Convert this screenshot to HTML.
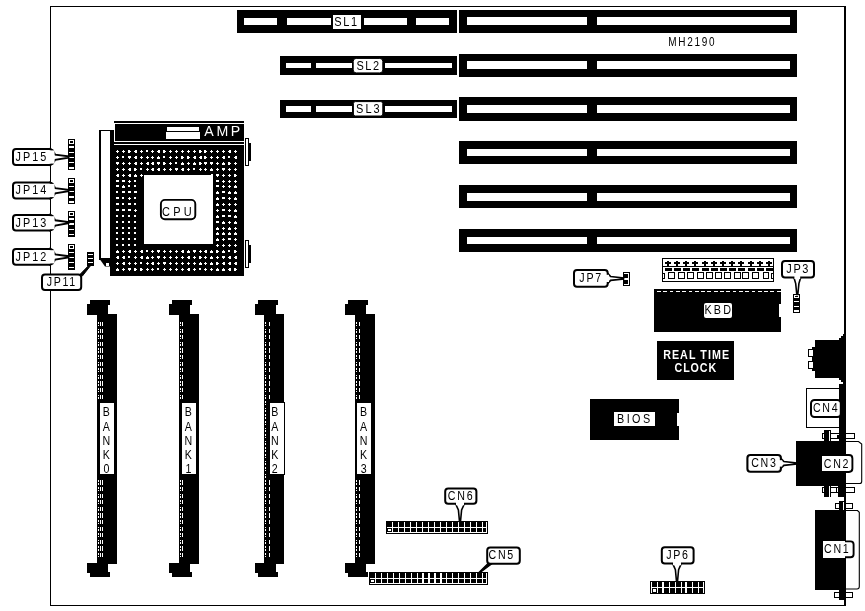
<!DOCTYPE html>
<html><head><meta charset="utf-8"><title>MH2190</title>
<style>
html,body{margin:0;padding:0;background:#fff;}
svg{display:block;will-change:transform;font-family:"Liberation Sans",sans-serif;}
</style></head><body>
<svg width="865" height="611" viewBox="0 0 865 611">
<rect width="865" height="611" fill="#fff"/>
<g shape-rendering="crispEdges">
<rect x="50" y="6" width="796" height="1" fill="#000" />
<rect x="50" y="6" width="1" height="600" fill="#000" />
<rect x="50" y="605" width="796" height="1" fill="#000" />
<rect x="844" y="6" width="2" height="600" fill="#000" />
<rect x="237" y="10" width="220" height="23" fill="#000" />
<rect x="243.5" y="18" width="33.25" height="7" fill="#fff" />
<rect x="286.75" y="18" width="44.25" height="7" fill="#fff" />
<rect x="364" y="18" width="42.5" height="7" fill="#fff" />
<rect x="416" y="18" width="33" height="7" fill="#fff" />
<rect x="280" y="56" width="177" height="19" fill="#000" />
<rect x="285.75" y="63" width="25.25" height="5" fill="#fff" />
<rect x="316" y="63" width="36" height="5" fill="#fff" />
<rect x="385" y="63" width="67" height="5" fill="#fff" />
<rect x="280" y="100" width="177" height="18" fill="#000" />
<rect x="285.75" y="106" width="25.25" height="6" fill="#fff" />
<rect x="316" y="106" width="36" height="6" fill="#fff" />
<rect x="385" y="106" width="67" height="6" fill="#fff" />
<rect x="459" y="10" width="338" height="23" fill="#000" />
<rect x="467" y="17" width="120" height="8" fill="#fff" />
<rect x="596.5" y="17" width="193.5" height="8" fill="#fff" />
<rect x="459" y="54" width="338" height="23" fill="#000" />
<rect x="467" y="61" width="120" height="8" fill="#fff" />
<rect x="596.5" y="61" width="193.5" height="8" fill="#fff" />
<rect x="459" y="97" width="338" height="24" fill="#000" />
<rect x="467" y="105" width="120" height="8" fill="#fff" />
<rect x="596.5" y="105" width="193.5" height="8" fill="#fff" />
<rect x="459" y="141" width="338" height="23" fill="#000" />
<rect x="467" y="149" width="120" height="7" fill="#fff" />
<rect x="596.5" y="149" width="193.5" height="7" fill="#fff" />
<rect x="459" y="185" width="338" height="23" fill="#000" />
<rect x="467" y="193" width="120" height="8" fill="#fff" />
<rect x="596.5" y="193" width="193.5" height="8" fill="#fff" />
<rect x="459" y="229" width="338" height="23" fill="#000" />
<rect x="467" y="237" width="120" height="7" fill="#fff" />
<rect x="596.5" y="237" width="193.5" height="7" fill="#fff" />
<rect x="333" y="14.5" width="27.5" height="14.25" fill="#fff" />
</g>
<text transform="translate(346.5 25.7) scale(0.82 1)" font-size="13.4" text-anchor="middle" fill="#000" font-weight="normal" letter-spacing="1.95" >SL1</text>
<rect x="353.2" y="58.4" width="29.6" height="14.5" rx="3" ry="3" fill="#fff" stroke="#000" stroke-width="1"/>
<text transform="translate(368.6 70.1472) scale(0.82 1)" font-size="13.4" text-anchor="middle" fill="#000" font-weight="normal" letter-spacing="1.95" >SL2</text>
<rect x="353.4" y="101.6" width="29.4" height="14.4" rx="2" ry="2" fill="#fff" stroke="#000" stroke-width="1"/>
<text transform="translate(368.9 113.097) scale(0.82 1)" font-size="13.4" text-anchor="middle" fill="#000" font-weight="normal" letter-spacing="2.44" >SL3</text>
<text transform="translate(692.3 46) scale(0.8 1)" font-size="12.5" text-anchor="middle" fill="#000" font-weight="normal" letter-spacing="2.19" >MH2190</text>
<g shape-rendering="crispEdges">
<rect x="114" y="120.6" width="130" height="2.2" fill="#000" />
<rect x="114" y="124" width="130" height="17" fill="#000" />
<rect x="114" y="142" width="130" height="2" fill="#000" />
<rect x="110" y="130" width="4" height="146" fill="#000" />
<rect x="110" y="145" width="134" height="130.8" fill="#000" />
<rect x="114" y="124" width="1" height="17" fill="#fff" />
<rect x="167" y="127" width="32" height="4" fill="#fff" />
<rect x="166" y="132" width="34" height="6.8" fill="#fff" />
<rect x="144" y="174.8" width="69" height="69.2" fill="#fff" />
</g>
<g shape-rendering="crispEdges">
<rect x="117" y="150" width="1" height="1" fill="#fff"/>
<rect x="116" y="151" width="3" height="1" fill="#fff"/>
<rect x="117" y="152" width="1" height="1" fill="#fff"/>
<rect x="117" y="156" width="1" height="1" fill="#fff"/>
<rect x="116" y="157" width="3" height="1" fill="#fff"/>
<rect x="117" y="158" width="1" height="1" fill="#fff"/>
<rect x="116" y="162" width="3" height="2" fill="#fff"/>
<rect x="117" y="164" width="1" height="1" fill="#fff"/>
<rect x="117" y="168" width="1" height="1" fill="#fff"/>
<rect x="116" y="169" width="3" height="1" fill="#fff"/>
<rect x="117" y="170" width="1" height="1" fill="#fff"/>
<rect x="117" y="174" width="2" height="3" fill="#fff"/>
<rect x="116" y="175" width="1" height="1" fill="#fff"/>
<rect x="116" y="180" width="3" height="2" fill="#fff"/>
<rect x="116" y="185" width="3" height="2" fill="#fff"/>
<rect x="116" y="191" width="2" height="2" fill="#fff"/>
<rect x="116" y="197" width="3" height="2" fill="#fff"/>
<rect x="116" y="203" width="3" height="2" fill="#fff"/>
<rect x="116" y="209" width="3" height="2" fill="#fff"/>
<rect x="116" y="215" width="2" height="2" fill="#fff"/>
<rect x="116" y="221" width="2" height="2" fill="#fff"/>
<rect x="116" y="227" width="2" height="2" fill="#fff"/>
<rect x="116" y="232" width="2" height="2" fill="#fff"/>
<rect x="116" y="238" width="2" height="2" fill="#fff"/>
<rect x="116" y="244" width="2" height="2" fill="#fff"/>
<rect x="117" y="250" width="1" height="1" fill="#fff"/>
<rect x="116" y="251" width="3" height="2" fill="#fff"/>
<rect x="117" y="256" width="2" height="3" fill="#fff"/>
<rect x="116" y="257" width="1" height="1" fill="#fff"/>
<rect x="117" y="262" width="1" height="1" fill="#fff"/>
<rect x="116" y="263" width="3" height="1" fill="#fff"/>
<rect x="117" y="264" width="1" height="1" fill="#fff"/>
<rect x="117" y="268" width="1" height="1" fill="#fff"/>
<rect x="116" y="269" width="3" height="2" fill="#fff"/>
<rect x="123" y="150" width="1" height="1" fill="#fff"/>
<rect x="122" y="151" width="3" height="1" fill="#fff"/>
<rect x="123" y="152" width="1" height="1" fill="#fff"/>
<rect x="122" y="156" width="2" height="2" fill="#fff"/>
<rect x="123" y="162" width="1" height="1" fill="#fff"/>
<rect x="122" y="163" width="3" height="1" fill="#fff"/>
<rect x="123" y="164" width="1" height="1" fill="#fff"/>
<rect x="123" y="168" width="1" height="1" fill="#fff"/>
<rect x="122" y="169" width="3" height="1" fill="#fff"/>
<rect x="123" y="170" width="1" height="1" fill="#fff"/>
<rect x="123" y="174" width="1" height="1" fill="#fff"/>
<rect x="122" y="175" width="3" height="1" fill="#fff"/>
<rect x="123" y="176" width="1" height="1" fill="#fff"/>
<rect x="122" y="180" width="3" height="2" fill="#fff"/>
<rect x="123" y="185" width="1" height="1" fill="#fff"/>
<rect x="122" y="186" width="3" height="2" fill="#fff"/>
<rect x="122" y="191" width="3" height="2" fill="#fff"/>
<rect x="122" y="197" width="2" height="2" fill="#fff"/>
<rect x="122" y="203" width="2" height="2" fill="#fff"/>
<rect x="122" y="209" width="3" height="2" fill="#fff"/>
<rect x="122" y="215" width="2" height="2" fill="#fff"/>
<rect x="122" y="221" width="2" height="2" fill="#fff"/>
<rect x="122" y="227" width="2" height="2" fill="#fff"/>
<rect x="122" y="232" width="2" height="2" fill="#fff"/>
<rect x="122" y="238" width="2" height="2" fill="#fff"/>
<rect x="122" y="244" width="2" height="2" fill="#fff"/>
<rect x="123" y="250" width="1" height="1" fill="#fff"/>
<rect x="122" y="251" width="3" height="1" fill="#fff"/>
<rect x="123" y="252" width="1" height="1" fill="#fff"/>
<rect x="123" y="256" width="2" height="3" fill="#fff"/>
<rect x="122" y="257" width="1" height="1" fill="#fff"/>
<rect x="123" y="262" width="2" height="3" fill="#fff"/>
<rect x="122" y="263" width="1" height="1" fill="#fff"/>
<rect x="123" y="268" width="1" height="1" fill="#fff"/>
<rect x="122" y="269" width="3" height="1" fill="#fff"/>
<rect x="123" y="270" width="1" height="1" fill="#fff"/>
<rect x="128" y="150" width="2" height="3" fill="#fff"/>
<rect x="130" y="151" width="1" height="1" fill="#fff"/>
<rect x="128" y="156" width="3" height="2" fill="#fff"/>
<rect x="129" y="158" width="1" height="1" fill="#fff"/>
<rect x="129" y="162" width="1" height="1" fill="#fff"/>
<rect x="128" y="163" width="3" height="1" fill="#fff"/>
<rect x="129" y="164" width="1" height="1" fill="#fff"/>
<rect x="129" y="168" width="2" height="3" fill="#fff"/>
<rect x="128" y="169" width="1" height="1" fill="#fff"/>
<rect x="129" y="174" width="2" height="3" fill="#fff"/>
<rect x="128" y="175" width="1" height="1" fill="#fff"/>
<rect x="129" y="180" width="1" height="1" fill="#fff"/>
<rect x="128" y="181" width="3" height="1" fill="#fff"/>
<rect x="129" y="182" width="1" height="1" fill="#fff"/>
<rect x="128" y="185" width="2" height="2" fill="#fff"/>
<rect x="128" y="191" width="3" height="2" fill="#fff"/>
<rect x="129" y="197" width="1" height="1" fill="#fff"/>
<rect x="128" y="198" width="3" height="1" fill="#fff"/>
<rect x="129" y="199" width="1" height="1" fill="#fff"/>
<rect x="128" y="203" width="3" height="2" fill="#fff"/>
<rect x="128" y="209" width="3" height="2" fill="#fff"/>
<rect x="128" y="215" width="2" height="2" fill="#fff"/>
<rect x="128" y="221" width="2" height="2" fill="#fff"/>
<rect x="128" y="227" width="2" height="2" fill="#fff"/>
<rect x="128" y="232" width="2" height="2" fill="#fff"/>
<rect x="128" y="238" width="2" height="2" fill="#fff"/>
<rect x="128" y="244" width="2" height="2" fill="#fff"/>
<rect x="129" y="250" width="2" height="3" fill="#fff"/>
<rect x="128" y="251" width="1" height="1" fill="#fff"/>
<rect x="128" y="256" width="2" height="2" fill="#fff"/>
<rect x="129" y="262" width="1" height="1" fill="#fff"/>
<rect x="128" y="263" width="3" height="1" fill="#fff"/>
<rect x="129" y="264" width="1" height="1" fill="#fff"/>
<rect x="128" y="268" width="3" height="2" fill="#fff"/>
<rect x="129" y="270" width="1" height="1" fill="#fff"/>
<rect x="135" y="150" width="2" height="3" fill="#fff"/>
<rect x="134" y="151" width="1" height="1" fill="#fff"/>
<rect x="135" y="156" width="2" height="3" fill="#fff"/>
<rect x="134" y="157" width="1" height="1" fill="#fff"/>
<rect x="135" y="162" width="2" height="3" fill="#fff"/>
<rect x="134" y="163" width="1" height="1" fill="#fff"/>
<rect x="134" y="168" width="2" height="3" fill="#fff"/>
<rect x="136" y="169" width="1" height="1" fill="#fff"/>
<rect x="135" y="174" width="1" height="1" fill="#fff"/>
<rect x="134" y="175" width="3" height="2" fill="#fff"/>
<rect x="134" y="180" width="2" height="2" fill="#fff"/>
<rect x="134" y="185" width="2" height="2" fill="#fff"/>
<rect x="134" y="191" width="3" height="2" fill="#fff"/>
<rect x="134" y="197" width="2" height="2" fill="#fff"/>
<rect x="134" y="203" width="2" height="2" fill="#fff"/>
<rect x="135" y="209" width="1" height="1" fill="#fff"/>
<rect x="134" y="210" width="3" height="1" fill="#fff"/>
<rect x="135" y="211" width="1" height="1" fill="#fff"/>
<rect x="134" y="215" width="2" height="2" fill="#fff"/>
<rect x="134" y="221" width="2" height="2" fill="#fff"/>
<rect x="134" y="227" width="2" height="2" fill="#fff"/>
<rect x="134" y="232" width="2" height="2" fill="#fff"/>
<rect x="134" y="238" width="2" height="2" fill="#fff"/>
<rect x="134" y="244" width="2" height="2" fill="#fff"/>
<rect x="135" y="250" width="1" height="1" fill="#fff"/>
<rect x="134" y="251" width="3" height="1" fill="#fff"/>
<rect x="135" y="252" width="1" height="1" fill="#fff"/>
<rect x="135" y="256" width="1" height="1" fill="#fff"/>
<rect x="134" y="257" width="3" height="1" fill="#fff"/>
<rect x="135" y="258" width="1" height="1" fill="#fff"/>
<rect x="135" y="262" width="1" height="1" fill="#fff"/>
<rect x="134" y="263" width="3" height="1" fill="#fff"/>
<rect x="135" y="264" width="1" height="1" fill="#fff"/>
<rect x="134" y="268" width="2" height="3" fill="#fff"/>
<rect x="136" y="269" width="1" height="1" fill="#fff"/>
<rect x="141" y="150" width="1" height="1" fill="#fff"/>
<rect x="140" y="151" width="3" height="1" fill="#fff"/>
<rect x="141" y="152" width="1" height="1" fill="#fff"/>
<rect x="141" y="156" width="1" height="1" fill="#fff"/>
<rect x="140" y="157" width="3" height="1" fill="#fff"/>
<rect x="141" y="158" width="1" height="1" fill="#fff"/>
<rect x="141" y="162" width="1" height="1" fill="#fff"/>
<rect x="140" y="163" width="3" height="1" fill="#fff"/>
<rect x="141" y="164" width="1" height="1" fill="#fff"/>
<rect x="140" y="168" width="2" height="2" fill="#fff"/>
<rect x="141" y="174" width="1" height="1" fill="#fff"/>
<rect x="140" y="175" width="3" height="1" fill="#fff"/>
<rect x="141" y="176" width="1" height="1" fill="#fff"/>
<rect x="141" y="250" width="2" height="3" fill="#fff"/>
<rect x="140" y="251" width="1" height="1" fill="#fff"/>
<rect x="141" y="256" width="2" height="3" fill="#fff"/>
<rect x="140" y="257" width="1" height="1" fill="#fff"/>
<rect x="140" y="262" width="2" height="2" fill="#fff"/>
<rect x="140" y="268" width="2" height="3" fill="#fff"/>
<rect x="142" y="269" width="1" height="1" fill="#fff"/>
<rect x="146" y="150" width="2" height="2" fill="#fff"/>
<rect x="147" y="156" width="1" height="1" fill="#fff"/>
<rect x="146" y="157" width="3" height="1" fill="#fff"/>
<rect x="147" y="158" width="1" height="1" fill="#fff"/>
<rect x="147" y="162" width="2" height="3" fill="#fff"/>
<rect x="146" y="163" width="1" height="1" fill="#fff"/>
<rect x="147" y="168" width="1" height="1" fill="#fff"/>
<rect x="146" y="169" width="3" height="1" fill="#fff"/>
<rect x="147" y="170" width="1" height="1" fill="#fff"/>
<rect x="146" y="250" width="2" height="2" fill="#fff"/>
<rect x="147" y="256" width="1" height="1" fill="#fff"/>
<rect x="146" y="257" width="3" height="2" fill="#fff"/>
<rect x="147" y="262" width="1" height="1" fill="#fff"/>
<rect x="146" y="263" width="3" height="1" fill="#fff"/>
<rect x="147" y="264" width="1" height="1" fill="#fff"/>
<rect x="147" y="268" width="1" height="1" fill="#fff"/>
<rect x="146" y="269" width="3" height="1" fill="#fff"/>
<rect x="147" y="270" width="1" height="1" fill="#fff"/>
<rect x="152" y="150" width="1" height="1" fill="#fff"/>
<rect x="151" y="151" width="3" height="1" fill="#fff"/>
<rect x="152" y="152" width="1" height="1" fill="#fff"/>
<rect x="152" y="156" width="1" height="1" fill="#fff"/>
<rect x="151" y="157" width="3" height="1" fill="#fff"/>
<rect x="152" y="158" width="1" height="1" fill="#fff"/>
<rect x="152" y="162" width="2" height="3" fill="#fff"/>
<rect x="151" y="163" width="1" height="1" fill="#fff"/>
<rect x="152" y="168" width="2" height="3" fill="#fff"/>
<rect x="151" y="169" width="1" height="1" fill="#fff"/>
<rect x="152" y="250" width="1" height="1" fill="#fff"/>
<rect x="151" y="251" width="3" height="1" fill="#fff"/>
<rect x="152" y="252" width="1" height="1" fill="#fff"/>
<rect x="152" y="256" width="1" height="1" fill="#fff"/>
<rect x="151" y="257" width="3" height="1" fill="#fff"/>
<rect x="152" y="258" width="1" height="1" fill="#fff"/>
<rect x="152" y="262" width="2" height="3" fill="#fff"/>
<rect x="151" y="263" width="1" height="1" fill="#fff"/>
<rect x="152" y="268" width="1" height="1" fill="#fff"/>
<rect x="151" y="269" width="3" height="1" fill="#fff"/>
<rect x="152" y="270" width="1" height="1" fill="#fff"/>
<rect x="158" y="150" width="2" height="3" fill="#fff"/>
<rect x="157" y="151" width="1" height="1" fill="#fff"/>
<rect x="158" y="156" width="1" height="1" fill="#fff"/>
<rect x="157" y="157" width="3" height="2" fill="#fff"/>
<rect x="157" y="162" width="3" height="2" fill="#fff"/>
<rect x="158" y="164" width="1" height="1" fill="#fff"/>
<rect x="158" y="168" width="2" height="3" fill="#fff"/>
<rect x="157" y="169" width="1" height="1" fill="#fff"/>
<rect x="157" y="250" width="3" height="2" fill="#fff"/>
<rect x="158" y="252" width="1" height="1" fill="#fff"/>
<rect x="157" y="256" width="3" height="2" fill="#fff"/>
<rect x="158" y="258" width="1" height="1" fill="#fff"/>
<rect x="158" y="262" width="1" height="1" fill="#fff"/>
<rect x="157" y="263" width="3" height="1" fill="#fff"/>
<rect x="158" y="264" width="1" height="1" fill="#fff"/>
<rect x="157" y="268" width="2" height="2" fill="#fff"/>
<rect x="163" y="150" width="2" height="3" fill="#fff"/>
<rect x="165" y="151" width="1" height="1" fill="#fff"/>
<rect x="163" y="156" width="2" height="2" fill="#fff"/>
<rect x="163" y="162" width="2" height="3" fill="#fff"/>
<rect x="165" y="163" width="1" height="1" fill="#fff"/>
<rect x="164" y="168" width="1" height="1" fill="#fff"/>
<rect x="163" y="169" width="3" height="1" fill="#fff"/>
<rect x="164" y="170" width="1" height="1" fill="#fff"/>
<rect x="164" y="250" width="1" height="1" fill="#fff"/>
<rect x="163" y="251" width="3" height="1" fill="#fff"/>
<rect x="164" y="252" width="1" height="1" fill="#fff"/>
<rect x="164" y="256" width="1" height="1" fill="#fff"/>
<rect x="163" y="257" width="3" height="1" fill="#fff"/>
<rect x="164" y="258" width="1" height="1" fill="#fff"/>
<rect x="163" y="262" width="3" height="2" fill="#fff"/>
<rect x="164" y="264" width="1" height="1" fill="#fff"/>
<rect x="164" y="268" width="1" height="1" fill="#fff"/>
<rect x="163" y="269" width="3" height="1" fill="#fff"/>
<rect x="164" y="270" width="1" height="1" fill="#fff"/>
<rect x="170" y="150" width="1" height="1" fill="#fff"/>
<rect x="169" y="151" width="3" height="1" fill="#fff"/>
<rect x="170" y="152" width="1" height="1" fill="#fff"/>
<rect x="170" y="156" width="1" height="1" fill="#fff"/>
<rect x="169" y="157" width="3" height="1" fill="#fff"/>
<rect x="170" y="158" width="1" height="1" fill="#fff"/>
<rect x="170" y="162" width="1" height="1" fill="#fff"/>
<rect x="169" y="163" width="3" height="1" fill="#fff"/>
<rect x="170" y="164" width="1" height="1" fill="#fff"/>
<rect x="170" y="168" width="1" height="1" fill="#fff"/>
<rect x="169" y="169" width="3" height="1" fill="#fff"/>
<rect x="170" y="170" width="1" height="1" fill="#fff"/>
<rect x="170" y="250" width="1" height="1" fill="#fff"/>
<rect x="169" y="251" width="3" height="1" fill="#fff"/>
<rect x="170" y="252" width="1" height="1" fill="#fff"/>
<rect x="170" y="256" width="1" height="1" fill="#fff"/>
<rect x="169" y="257" width="3" height="1" fill="#fff"/>
<rect x="170" y="258" width="1" height="1" fill="#fff"/>
<rect x="170" y="262" width="1" height="1" fill="#fff"/>
<rect x="169" y="263" width="3" height="1" fill="#fff"/>
<rect x="170" y="264" width="1" height="1" fill="#fff"/>
<rect x="170" y="268" width="1" height="1" fill="#fff"/>
<rect x="169" y="269" width="3" height="1" fill="#fff"/>
<rect x="170" y="270" width="1" height="1" fill="#fff"/>
<rect x="176" y="150" width="1" height="1" fill="#fff"/>
<rect x="175" y="151" width="3" height="1" fill="#fff"/>
<rect x="176" y="152" width="1" height="1" fill="#fff"/>
<rect x="176" y="156" width="1" height="1" fill="#fff"/>
<rect x="175" y="157" width="3" height="1" fill="#fff"/>
<rect x="176" y="158" width="1" height="1" fill="#fff"/>
<rect x="175" y="162" width="2" height="2" fill="#fff"/>
<rect x="175" y="168" width="3" height="2" fill="#fff"/>
<rect x="176" y="170" width="1" height="1" fill="#fff"/>
<rect x="176" y="250" width="1" height="1" fill="#fff"/>
<rect x="175" y="251" width="3" height="1" fill="#fff"/>
<rect x="176" y="252" width="1" height="1" fill="#fff"/>
<rect x="176" y="256" width="1" height="1" fill="#fff"/>
<rect x="175" y="257" width="3" height="1" fill="#fff"/>
<rect x="176" y="258" width="1" height="1" fill="#fff"/>
<rect x="176" y="262" width="1" height="1" fill="#fff"/>
<rect x="175" y="263" width="3" height="1" fill="#fff"/>
<rect x="176" y="264" width="1" height="1" fill="#fff"/>
<rect x="176" y="268" width="1" height="1" fill="#fff"/>
<rect x="175" y="269" width="3" height="1" fill="#fff"/>
<rect x="176" y="270" width="1" height="1" fill="#fff"/>
<rect x="182" y="150" width="1" height="1" fill="#fff"/>
<rect x="181" y="151" width="3" height="1" fill="#fff"/>
<rect x="182" y="152" width="1" height="1" fill="#fff"/>
<rect x="181" y="156" width="2" height="3" fill="#fff"/>
<rect x="183" y="157" width="1" height="1" fill="#fff"/>
<rect x="182" y="162" width="1" height="1" fill="#fff"/>
<rect x="181" y="163" width="3" height="2" fill="#fff"/>
<rect x="182" y="168" width="2" height="3" fill="#fff"/>
<rect x="181" y="169" width="1" height="1" fill="#fff"/>
<rect x="182" y="250" width="2" height="3" fill="#fff"/>
<rect x="181" y="251" width="1" height="1" fill="#fff"/>
<rect x="182" y="256" width="1" height="1" fill="#fff"/>
<rect x="181" y="257" width="3" height="1" fill="#fff"/>
<rect x="182" y="258" width="1" height="1" fill="#fff"/>
<rect x="182" y="262" width="1" height="1" fill="#fff"/>
<rect x="181" y="263" width="3" height="1" fill="#fff"/>
<rect x="182" y="264" width="1" height="1" fill="#fff"/>
<rect x="182" y="268" width="1" height="1" fill="#fff"/>
<rect x="181" y="269" width="3" height="1" fill="#fff"/>
<rect x="182" y="270" width="1" height="1" fill="#fff"/>
<rect x="188" y="150" width="1" height="1" fill="#fff"/>
<rect x="187" y="151" width="3" height="1" fill="#fff"/>
<rect x="188" y="152" width="1" height="1" fill="#fff"/>
<rect x="187" y="156" width="2" height="3" fill="#fff"/>
<rect x="189" y="157" width="1" height="1" fill="#fff"/>
<rect x="188" y="162" width="1" height="1" fill="#fff"/>
<rect x="187" y="163" width="3" height="1" fill="#fff"/>
<rect x="188" y="164" width="1" height="1" fill="#fff"/>
<rect x="188" y="168" width="1" height="1" fill="#fff"/>
<rect x="187" y="169" width="3" height="1" fill="#fff"/>
<rect x="188" y="170" width="1" height="1" fill="#fff"/>
<rect x="188" y="250" width="1" height="1" fill="#fff"/>
<rect x="187" y="251" width="3" height="2" fill="#fff"/>
<rect x="188" y="256" width="2" height="3" fill="#fff"/>
<rect x="187" y="257" width="1" height="1" fill="#fff"/>
<rect x="188" y="262" width="1" height="1" fill="#fff"/>
<rect x="187" y="263" width="3" height="1" fill="#fff"/>
<rect x="188" y="264" width="1" height="1" fill="#fff"/>
<rect x="188" y="268" width="2" height="3" fill="#fff"/>
<rect x="187" y="269" width="1" height="1" fill="#fff"/>
<rect x="194" y="150" width="1" height="1" fill="#fff"/>
<rect x="193" y="151" width="3" height="1" fill="#fff"/>
<rect x="194" y="152" width="1" height="1" fill="#fff"/>
<rect x="194" y="156" width="2" height="3" fill="#fff"/>
<rect x="193" y="157" width="1" height="1" fill="#fff"/>
<rect x="194" y="162" width="1" height="1" fill="#fff"/>
<rect x="193" y="163" width="3" height="2" fill="#fff"/>
<rect x="193" y="168" width="2" height="2" fill="#fff"/>
<rect x="193" y="250" width="3" height="2" fill="#fff"/>
<rect x="194" y="252" width="1" height="1" fill="#fff"/>
<rect x="194" y="256" width="1" height="1" fill="#fff"/>
<rect x="193" y="257" width="3" height="1" fill="#fff"/>
<rect x="194" y="258" width="1" height="1" fill="#fff"/>
<rect x="194" y="262" width="1" height="1" fill="#fff"/>
<rect x="193" y="263" width="3" height="1" fill="#fff"/>
<rect x="194" y="264" width="1" height="1" fill="#fff"/>
<rect x="194" y="268" width="1" height="1" fill="#fff"/>
<rect x="193" y="269" width="3" height="1" fill="#fff"/>
<rect x="194" y="270" width="1" height="1" fill="#fff"/>
<rect x="199" y="150" width="2" height="3" fill="#fff"/>
<rect x="201" y="151" width="1" height="1" fill="#fff"/>
<rect x="200" y="156" width="2" height="3" fill="#fff"/>
<rect x="199" y="157" width="1" height="1" fill="#fff"/>
<rect x="199" y="162" width="2" height="3" fill="#fff"/>
<rect x="201" y="163" width="1" height="1" fill="#fff"/>
<rect x="200" y="168" width="1" height="1" fill="#fff"/>
<rect x="199" y="169" width="3" height="1" fill="#fff"/>
<rect x="200" y="170" width="1" height="1" fill="#fff"/>
<rect x="200" y="250" width="1" height="1" fill="#fff"/>
<rect x="199" y="251" width="3" height="1" fill="#fff"/>
<rect x="200" y="252" width="1" height="1" fill="#fff"/>
<rect x="199" y="256" width="2" height="3" fill="#fff"/>
<rect x="201" y="257" width="1" height="1" fill="#fff"/>
<rect x="200" y="262" width="1" height="1" fill="#fff"/>
<rect x="199" y="263" width="3" height="2" fill="#fff"/>
<rect x="199" y="268" width="2" height="2" fill="#fff"/>
<rect x="204" y="150" width="2" height="3" fill="#fff"/>
<rect x="206" y="151" width="1" height="1" fill="#fff"/>
<rect x="204" y="156" width="2" height="3" fill="#fff"/>
<rect x="206" y="157" width="1" height="1" fill="#fff"/>
<rect x="204" y="162" width="3" height="2" fill="#fff"/>
<rect x="205" y="164" width="1" height="1" fill="#fff"/>
<rect x="205" y="168" width="1" height="1" fill="#fff"/>
<rect x="204" y="169" width="3" height="1" fill="#fff"/>
<rect x="205" y="170" width="1" height="1" fill="#fff"/>
<rect x="205" y="250" width="2" height="3" fill="#fff"/>
<rect x="204" y="251" width="1" height="1" fill="#fff"/>
<rect x="205" y="256" width="1" height="1" fill="#fff"/>
<rect x="204" y="257" width="3" height="1" fill="#fff"/>
<rect x="205" y="258" width="1" height="1" fill="#fff"/>
<rect x="205" y="262" width="1" height="1" fill="#fff"/>
<rect x="204" y="263" width="3" height="1" fill="#fff"/>
<rect x="205" y="264" width="1" height="1" fill="#fff"/>
<rect x="205" y="268" width="1" height="1" fill="#fff"/>
<rect x="204" y="269" width="3" height="1" fill="#fff"/>
<rect x="205" y="270" width="1" height="1" fill="#fff"/>
<rect x="211" y="150" width="1" height="1" fill="#fff"/>
<rect x="210" y="151" width="3" height="1" fill="#fff"/>
<rect x="211" y="152" width="1" height="1" fill="#fff"/>
<rect x="211" y="156" width="1" height="1" fill="#fff"/>
<rect x="210" y="157" width="3" height="1" fill="#fff"/>
<rect x="211" y="158" width="1" height="1" fill="#fff"/>
<rect x="210" y="162" width="3" height="2" fill="#fff"/>
<rect x="211" y="164" width="1" height="1" fill="#fff"/>
<rect x="211" y="168" width="1" height="1" fill="#fff"/>
<rect x="210" y="169" width="3" height="2" fill="#fff"/>
<rect x="211" y="174" width="2" height="3" fill="#fff"/>
<rect x="210" y="175" width="1" height="1" fill="#fff"/>
<rect x="211" y="250" width="1" height="1" fill="#fff"/>
<rect x="210" y="251" width="3" height="2" fill="#fff"/>
<rect x="211" y="256" width="1" height="1" fill="#fff"/>
<rect x="210" y="257" width="3" height="2" fill="#fff"/>
<rect x="211" y="262" width="1" height="1" fill="#fff"/>
<rect x="210" y="263" width="3" height="2" fill="#fff"/>
<rect x="211" y="268" width="1" height="1" fill="#fff"/>
<rect x="210" y="269" width="3" height="1" fill="#fff"/>
<rect x="211" y="270" width="1" height="1" fill="#fff"/>
<rect x="217" y="150" width="1" height="1" fill="#fff"/>
<rect x="216" y="151" width="3" height="1" fill="#fff"/>
<rect x="217" y="152" width="1" height="1" fill="#fff"/>
<rect x="217" y="156" width="1" height="1" fill="#fff"/>
<rect x="216" y="157" width="3" height="1" fill="#fff"/>
<rect x="217" y="158" width="1" height="1" fill="#fff"/>
<rect x="217" y="162" width="1" height="1" fill="#fff"/>
<rect x="216" y="163" width="3" height="1" fill="#fff"/>
<rect x="217" y="164" width="1" height="1" fill="#fff"/>
<rect x="217" y="168" width="1" height="1" fill="#fff"/>
<rect x="216" y="169" width="3" height="1" fill="#fff"/>
<rect x="217" y="170" width="1" height="1" fill="#fff"/>
<rect x="216" y="174" width="3" height="2" fill="#fff"/>
<rect x="217" y="176" width="1" height="1" fill="#fff"/>
<rect x="216" y="180" width="3" height="2" fill="#fff"/>
<rect x="216" y="185" width="3" height="2" fill="#fff"/>
<rect x="217" y="191" width="1" height="1" fill="#fff"/>
<rect x="216" y="192" width="3" height="2" fill="#fff"/>
<rect x="217" y="197" width="1" height="1" fill="#fff"/>
<rect x="216" y="198" width="3" height="2" fill="#fff"/>
<rect x="217" y="203" width="1" height="1" fill="#fff"/>
<rect x="216" y="204" width="3" height="2" fill="#fff"/>
<rect x="217" y="209" width="1" height="1" fill="#fff"/>
<rect x="216" y="210" width="3" height="1" fill="#fff"/>
<rect x="217" y="211" width="1" height="1" fill="#fff"/>
<rect x="217" y="215" width="1" height="1" fill="#fff"/>
<rect x="216" y="216" width="3" height="2" fill="#fff"/>
<rect x="216" y="221" width="3" height="2" fill="#fff"/>
<rect x="217" y="227" width="1" height="1" fill="#fff"/>
<rect x="216" y="228" width="3" height="2" fill="#fff"/>
<rect x="217" y="232" width="1" height="1" fill="#fff"/>
<rect x="216" y="233" width="3" height="2" fill="#fff"/>
<rect x="217" y="238" width="1" height="1" fill="#fff"/>
<rect x="216" y="239" width="3" height="2" fill="#fff"/>
<rect x="217" y="244" width="1" height="1" fill="#fff"/>
<rect x="216" y="245" width="3" height="1" fill="#fff"/>
<rect x="217" y="246" width="1" height="1" fill="#fff"/>
<rect x="216" y="250" width="2" height="3" fill="#fff"/>
<rect x="218" y="251" width="1" height="1" fill="#fff"/>
<rect x="217" y="256" width="1" height="1" fill="#fff"/>
<rect x="216" y="257" width="3" height="1" fill="#fff"/>
<rect x="217" y="258" width="1" height="1" fill="#fff"/>
<rect x="216" y="262" width="2" height="3" fill="#fff"/>
<rect x="218" y="263" width="1" height="1" fill="#fff"/>
<rect x="217" y="268" width="1" height="1" fill="#fff"/>
<rect x="216" y="269" width="3" height="2" fill="#fff"/>
<rect x="223" y="150" width="1" height="1" fill="#fff"/>
<rect x="222" y="151" width="3" height="1" fill="#fff"/>
<rect x="223" y="152" width="1" height="1" fill="#fff"/>
<rect x="223" y="156" width="2" height="3" fill="#fff"/>
<rect x="222" y="157" width="1" height="1" fill="#fff"/>
<rect x="223" y="162" width="1" height="1" fill="#fff"/>
<rect x="222" y="163" width="3" height="2" fill="#fff"/>
<rect x="222" y="168" width="3" height="2" fill="#fff"/>
<rect x="223" y="170" width="1" height="1" fill="#fff"/>
<rect x="223" y="174" width="1" height="1" fill="#fff"/>
<rect x="222" y="175" width="3" height="1" fill="#fff"/>
<rect x="223" y="176" width="1" height="1" fill="#fff"/>
<rect x="223" y="180" width="1" height="1" fill="#fff"/>
<rect x="222" y="181" width="3" height="1" fill="#fff"/>
<rect x="223" y="182" width="1" height="1" fill="#fff"/>
<rect x="223" y="185" width="1" height="1" fill="#fff"/>
<rect x="222" y="186" width="3" height="1" fill="#fff"/>
<rect x="223" y="187" width="1" height="1" fill="#fff"/>
<rect x="222" y="191" width="3" height="2" fill="#fff"/>
<rect x="222" y="197" width="3" height="2" fill="#fff"/>
<rect x="223" y="203" width="1" height="1" fill="#fff"/>
<rect x="222" y="204" width="3" height="1" fill="#fff"/>
<rect x="223" y="205" width="1" height="1" fill="#fff"/>
<rect x="222" y="209" width="3" height="2" fill="#fff"/>
<rect x="222" y="215" width="3" height="2" fill="#fff"/>
<rect x="223" y="221" width="1" height="1" fill="#fff"/>
<rect x="222" y="222" width="3" height="2" fill="#fff"/>
<rect x="223" y="227" width="1" height="1" fill="#fff"/>
<rect x="222" y="228" width="3" height="1" fill="#fff"/>
<rect x="223" y="229" width="1" height="1" fill="#fff"/>
<rect x="223" y="232" width="1" height="1" fill="#fff"/>
<rect x="222" y="233" width="3" height="2" fill="#fff"/>
<rect x="223" y="238" width="1" height="1" fill="#fff"/>
<rect x="222" y="239" width="3" height="1" fill="#fff"/>
<rect x="223" y="240" width="1" height="1" fill="#fff"/>
<rect x="223" y="244" width="1" height="1" fill="#fff"/>
<rect x="222" y="245" width="3" height="1" fill="#fff"/>
<rect x="223" y="246" width="1" height="1" fill="#fff"/>
<rect x="223" y="250" width="1" height="1" fill="#fff"/>
<rect x="222" y="251" width="3" height="2" fill="#fff"/>
<rect x="222" y="256" width="3" height="2" fill="#fff"/>
<rect x="223" y="258" width="1" height="1" fill="#fff"/>
<rect x="223" y="262" width="2" height="3" fill="#fff"/>
<rect x="222" y="263" width="1" height="1" fill="#fff"/>
<rect x="223" y="268" width="1" height="1" fill="#fff"/>
<rect x="222" y="269" width="3" height="2" fill="#fff"/>
<rect x="229" y="150" width="2" height="3" fill="#fff"/>
<rect x="228" y="151" width="1" height="1" fill="#fff"/>
<rect x="228" y="156" width="2" height="2" fill="#fff"/>
<rect x="228" y="162" width="2" height="3" fill="#fff"/>
<rect x="230" y="163" width="1" height="1" fill="#fff"/>
<rect x="229" y="168" width="1" height="1" fill="#fff"/>
<rect x="228" y="169" width="3" height="1" fill="#fff"/>
<rect x="229" y="170" width="1" height="1" fill="#fff"/>
<rect x="229" y="174" width="1" height="1" fill="#fff"/>
<rect x="228" y="175" width="3" height="1" fill="#fff"/>
<rect x="229" y="176" width="1" height="1" fill="#fff"/>
<rect x="229" y="180" width="1" height="1" fill="#fff"/>
<rect x="228" y="181" width="3" height="1" fill="#fff"/>
<rect x="229" y="182" width="1" height="1" fill="#fff"/>
<rect x="229" y="185" width="1" height="1" fill="#fff"/>
<rect x="228" y="186" width="3" height="1" fill="#fff"/>
<rect x="229" y="187" width="1" height="1" fill="#fff"/>
<rect x="229" y="191" width="1" height="1" fill="#fff"/>
<rect x="228" y="192" width="3" height="2" fill="#fff"/>
<rect x="229" y="197" width="1" height="1" fill="#fff"/>
<rect x="228" y="198" width="3" height="1" fill="#fff"/>
<rect x="229" y="199" width="1" height="1" fill="#fff"/>
<rect x="229" y="203" width="1" height="1" fill="#fff"/>
<rect x="228" y="204" width="3" height="1" fill="#fff"/>
<rect x="229" y="205" width="1" height="1" fill="#fff"/>
<rect x="229" y="209" width="1" height="1" fill="#fff"/>
<rect x="228" y="210" width="3" height="1" fill="#fff"/>
<rect x="229" y="211" width="1" height="1" fill="#fff"/>
<rect x="228" y="215" width="3" height="2" fill="#fff"/>
<rect x="229" y="221" width="1" height="1" fill="#fff"/>
<rect x="228" y="222" width="3" height="1" fill="#fff"/>
<rect x="229" y="223" width="1" height="1" fill="#fff"/>
<rect x="229" y="227" width="1" height="1" fill="#fff"/>
<rect x="228" y="228" width="3" height="2" fill="#fff"/>
<rect x="229" y="232" width="1" height="1" fill="#fff"/>
<rect x="228" y="233" width="3" height="2" fill="#fff"/>
<rect x="228" y="238" width="3" height="2" fill="#fff"/>
<rect x="229" y="244" width="1" height="1" fill="#fff"/>
<rect x="228" y="245" width="3" height="1" fill="#fff"/>
<rect x="229" y="246" width="1" height="1" fill="#fff"/>
<rect x="228" y="250" width="2" height="2" fill="#fff"/>
<rect x="229" y="256" width="2" height="3" fill="#fff"/>
<rect x="228" y="257" width="1" height="1" fill="#fff"/>
<rect x="229" y="262" width="2" height="3" fill="#fff"/>
<rect x="228" y="263" width="1" height="1" fill="#fff"/>
<rect x="229" y="268" width="2" height="3" fill="#fff"/>
<rect x="228" y="269" width="1" height="1" fill="#fff"/>
<rect x="235" y="150" width="1" height="1" fill="#fff"/>
<rect x="234" y="151" width="3" height="1" fill="#fff"/>
<rect x="235" y="152" width="1" height="1" fill="#fff"/>
<rect x="235" y="156" width="2" height="3" fill="#fff"/>
<rect x="234" y="157" width="1" height="1" fill="#fff"/>
<rect x="235" y="162" width="1" height="1" fill="#fff"/>
<rect x="234" y="163" width="3" height="1" fill="#fff"/>
<rect x="235" y="164" width="1" height="1" fill="#fff"/>
<rect x="235" y="168" width="1" height="1" fill="#fff"/>
<rect x="234" y="169" width="3" height="1" fill="#fff"/>
<rect x="235" y="170" width="1" height="1" fill="#fff"/>
<rect x="234" y="174" width="2" height="3" fill="#fff"/>
<rect x="236" y="175" width="1" height="1" fill="#fff"/>
<rect x="235" y="180" width="1" height="1" fill="#fff"/>
<rect x="234" y="181" width="3" height="1" fill="#fff"/>
<rect x="235" y="182" width="1" height="1" fill="#fff"/>
<rect x="235" y="185" width="1" height="1" fill="#fff"/>
<rect x="234" y="186" width="3" height="2" fill="#fff"/>
<rect x="235" y="191" width="1" height="1" fill="#fff"/>
<rect x="234" y="192" width="3" height="2" fill="#fff"/>
<rect x="235" y="197" width="1" height="1" fill="#fff"/>
<rect x="234" y="198" width="3" height="2" fill="#fff"/>
<rect x="235" y="203" width="1" height="1" fill="#fff"/>
<rect x="234" y="204" width="3" height="1" fill="#fff"/>
<rect x="235" y="205" width="1" height="1" fill="#fff"/>
<rect x="235" y="209" width="1" height="1" fill="#fff"/>
<rect x="234" y="210" width="3" height="2" fill="#fff"/>
<rect x="235" y="215" width="1" height="1" fill="#fff"/>
<rect x="234" y="216" width="3" height="2" fill="#fff"/>
<rect x="235" y="221" width="1" height="1" fill="#fff"/>
<rect x="234" y="222" width="3" height="2" fill="#fff"/>
<rect x="235" y="227" width="1" height="1" fill="#fff"/>
<rect x="234" y="228" width="3" height="1" fill="#fff"/>
<rect x="235" y="229" width="1" height="1" fill="#fff"/>
<rect x="235" y="232" width="1" height="1" fill="#fff"/>
<rect x="234" y="233" width="3" height="2" fill="#fff"/>
<rect x="235" y="238" width="1" height="1" fill="#fff"/>
<rect x="234" y="239" width="3" height="1" fill="#fff"/>
<rect x="235" y="240" width="1" height="1" fill="#fff"/>
<rect x="235" y="244" width="1" height="1" fill="#fff"/>
<rect x="234" y="245" width="3" height="1" fill="#fff"/>
<rect x="235" y="246" width="1" height="1" fill="#fff"/>
<rect x="234" y="250" width="2" height="3" fill="#fff"/>
<rect x="236" y="251" width="1" height="1" fill="#fff"/>
<rect x="235" y="256" width="2" height="3" fill="#fff"/>
<rect x="234" y="257" width="1" height="1" fill="#fff"/>
<rect x="235" y="262" width="2" height="3" fill="#fff"/>
<rect x="234" y="263" width="1" height="1" fill="#fff"/>
<rect x="234" y="268" width="2" height="3" fill="#fff"/>
<rect x="236" y="269" width="1" height="1" fill="#fff"/>
</g>
<g shape-rendering="crispEdges">
<rect x="99" y="130" width="11" height="129.6" fill="#000" />
<rect x="100.5" y="131.3" width="9.5" height="127.1" fill="#fff" />
</g>
<path d="M99.6 259 L105 266.6 L110 266.6 L110 259 Z" fill="#000"/>
<g shape-rendering="crispEdges">
<rect x="105.6" y="262.8" width="3" height="3.2" fill="#fff" />
<rect x="245" y="138" width="3.6" height="28" fill="#000" />
<rect x="246" y="139" width="1.6" height="26" fill="#fff" />
<rect x="248.6" y="143" width="2" height="18" fill="#000" />
<rect x="245" y="240" width="3.6" height="28" fill="#000" />
<rect x="246" y="241" width="1.6" height="26" fill="#fff" />
<rect x="248.6" y="245" width="2" height="18" fill="#000" />
</g>
<text transform="translate(223.6 135.8) scale(0.92 1)" font-size="15.4" text-anchor="middle" fill="#fff" font-weight="normal" letter-spacing="2.83" >AMP</text>
<rect x="160.9" y="199.9" width="34.4" height="19.3" rx="4" ry="4" fill="#fff" stroke="#000" stroke-width="1.9"/>
<text transform="translate(178.5 215.847) scale(0.82 1)" font-size="13.4" text-anchor="middle" fill="#000" font-weight="normal" letter-spacing="3.90" >CPU</text>
<g shape-rendering="crispEdges">
<rect x="68" y="139" width="7" height="31" fill="#000" />
<rect x="69" y="140" width="5" height="3.77" fill="#fff" />
<rect x="70.1" y="141" width="2.8" height="1.77" fill="#000" />
<rect x="71" y="141.9" width="1" height="-0.13" fill="#fff" />
<rect x="69" y="146.45" width="5" height="1.5" fill="#fff" />
<rect x="69" y="151.62" width="5" height="1.5" fill="#fff" />
<rect x="69" y="156.78" width="5" height="1.5" fill="#fff" />
<rect x="69" y="161.95" width="5" height="1.5" fill="#fff" />
<rect x="69" y="167.12" width="5" height="1.5" fill="#fff" />
</g>
<path d="M50.2 149.2 L52.7 150.2 L55.2 154.6 L68.5 156.4 L68.5 157.6 L55.2 159.8 L52.7 163.8 L50.2 164.8 Z" fill="#fff" stroke="#000" stroke-width="1.9" stroke-linejoin="miter"/>
<rect x="13" y="149.1" width="39" height="15.8" rx="3" ry="3" fill="#fff" stroke="#000" stroke-width="2"/>
<text transform="translate(31.95 160.826) scale(0.82 1)" font-size="13.2" text-anchor="middle" fill="#000" font-weight="normal" letter-spacing="2.56" >JP15</text>
<rect x="49" y="150.4" width="5.6" height="13.2" fill="#fff"/>
<g shape-rendering="crispEdges">
<rect x="68" y="178.3" width="7" height="25.9" fill="#000" />
<rect x="69" y="179.3" width="5" height="3.78" fill="#fff" />
<rect x="70.1" y="180.3" width="2.8" height="1.78" fill="#000" />
<rect x="71" y="181.2" width="1" height="-0.12" fill="#fff" />
<rect x="69" y="185.77" width="5" height="1.5" fill="#fff" />
<rect x="69" y="190.95" width="5" height="1.5" fill="#fff" />
<rect x="69" y="196.13" width="5" height="1.5" fill="#fff" />
<rect x="69" y="201.31" width="5" height="1.5" fill="#fff" />
</g>
<path d="M50.2 182.7 L52.7 183.7 L55.2 188.1 L68.5 189.9 L68.5 191.1 L55.2 193.3 L52.7 197.3 L50.2 198.3 Z" fill="#fff" stroke="#000" stroke-width="1.9" stroke-linejoin="miter"/>
<rect x="13" y="182.6" width="39" height="15.8" rx="3" ry="3" fill="#fff" stroke="#000" stroke-width="2"/>
<text transform="translate(31.95 194.326) scale(0.82 1)" font-size="13.2" text-anchor="middle" fill="#000" font-weight="normal" letter-spacing="2.56" >JP14</text>
<rect x="49" y="183.9" width="5.6" height="13.2" fill="#fff"/>
<g shape-rendering="crispEdges">
<rect x="68" y="211" width="7" height="25.5" fill="#000" />
<rect x="69" y="212" width="5" height="3.7" fill="#fff" />
<rect x="70.1" y="213" width="2.8" height="1.7" fill="#000" />
<rect x="71" y="213.9" width="1" height="-0.2" fill="#fff" />
<rect x="69" y="218.35" width="5" height="1.5" fill="#fff" />
<rect x="69" y="223.45" width="5" height="1.5" fill="#fff" />
<rect x="69" y="228.55" width="5" height="1.5" fill="#fff" />
<rect x="69" y="233.65" width="5" height="1.5" fill="#fff" />
</g>
<path d="M50.2 215.0 L52.7 216.0 L55.2 220.29999999999998 L68.5 222.1 L68.5 223.29999999999998 L55.2 225.5 L52.7 229.39999999999998 L50.2 230.39999999999998 Z" fill="#fff" stroke="#000" stroke-width="1.9" stroke-linejoin="miter"/>
<rect x="13" y="214.9" width="39" height="15.6" rx="3" ry="3" fill="#fff" stroke="#000" stroke-width="2"/>
<text transform="translate(31.95 226.526) scale(0.82 1)" font-size="13.2" text-anchor="middle" fill="#000" font-weight="normal" letter-spacing="2.56" >JP13</text>
<rect x="49" y="216.2" width="5.6" height="13" fill="#fff"/>
<g shape-rendering="crispEdges">
<rect x="68" y="244.2" width="7" height="25.6" fill="#000" />
<rect x="69" y="245.2" width="5" height="3.72" fill="#fff" />
<rect x="70.1" y="246.2" width="2.8" height="1.72" fill="#000" />
<rect x="71" y="247.1" width="1" height="-0.18" fill="#fff" />
<rect x="69" y="251.58" width="5" height="1.5" fill="#fff" />
<rect x="69" y="256.7" width="5" height="1.5" fill="#fff" />
<rect x="69" y="261.82" width="5" height="1.5" fill="#fff" />
<rect x="69" y="266.94" width="5" height="1.5" fill="#fff" />
</g>
<path d="M50.2 249.0 L52.7 250.0 L55.2 254.4 L68.5 256.2 L68.5 257.40000000000003 L55.2 259.6 L52.7 263.6 L50.2 264.6 Z" fill="#fff" stroke="#000" stroke-width="1.9" stroke-linejoin="miter"/>
<rect x="13" y="248.9" width="39" height="15.8" rx="3" ry="3" fill="#fff" stroke="#000" stroke-width="2"/>
<text transform="translate(31.95 260.626) scale(0.82 1)" font-size="13.2" text-anchor="middle" fill="#000" font-weight="normal" letter-spacing="2.56" >JP12</text>
<rect x="49" y="250.2" width="5.6" height="13.2" fill="#fff"/>
<g shape-rendering="crispEdges">
<rect x="87" y="252" width="7" height="14" fill="#000" />
<rect x="88" y="254" width="5" height="1.4" fill="#fff" />
<rect x="88" y="258" width="5" height="1.4" fill="#fff" />
<rect x="88" y="262" width="5" height="1" fill="#fff" />
</g>
<path d="M80 274.4 L88.6 265.6 L90.6 265.6 L82.4 276 Z" fill="#000" stroke="#000" stroke-width="1"/>
<rect x="42" y="274.5" width="39.2" height="15.5" rx="3" ry="3" fill="#fff" stroke="#000" stroke-width="2"/>
<text transform="translate(61.85 286.004) scale(0.82 1)" font-size="13" text-anchor="middle" fill="#000" font-weight="normal" letter-spacing="2.07" >JP11</text>
<g shape-rendering="crispEdges">
<rect x="90" y="300" width="20" height="5" fill="#000" />
<rect x="87" y="304" width="21" height="11" fill="#000" />
<rect x="97" y="314" width="20" height="249.6" fill="#000" />
<rect x="87" y="562.6" width="21" height="10.4" fill="#000" />
<rect x="90" y="572" width="20" height="5" fill="#000" />
<rect x="97.9" y="322" width="1" height="1.6" fill="#fff" />
<rect x="97.9" y="324.6" width="1" height="1.6" fill="#fff" />
<rect x="99.9" y="322" width="1.1" height="4.2" fill="#fff" />
<rect x="101.9" y="322" width="1.1" height="4.2" fill="#fff" />
<rect x="97.9" y="328.6" width="1" height="1.6" fill="#fff" />
<rect x="97.9" y="331.2" width="1" height="1.6" fill="#fff" />
<rect x="99.9" y="328.6" width="1.1" height="4.2" fill="#fff" />
<rect x="101.9" y="328.6" width="1.1" height="4.2" fill="#fff" />
<rect x="97.9" y="335.2" width="1" height="1.6" fill="#fff" />
<rect x="97.9" y="337.8" width="1" height="1.6" fill="#fff" />
<rect x="99.9" y="335.2" width="1.1" height="4.2" fill="#fff" />
<rect x="101.9" y="335.2" width="1.1" height="4.2" fill="#fff" />
<rect x="97.9" y="341.8" width="1" height="1.6" fill="#fff" />
<rect x="97.9" y="344.4" width="1" height="1.6" fill="#fff" />
<rect x="99.9" y="341.8" width="1.1" height="4.2" fill="#fff" />
<rect x="101.9" y="341.8" width="1.1" height="4.2" fill="#fff" />
<rect x="97.9" y="348.4" width="1" height="1.6" fill="#fff" />
<rect x="97.9" y="351" width="1" height="1.6" fill="#fff" />
<rect x="99.9" y="348.4" width="1.1" height="4.2" fill="#fff" />
<rect x="101.9" y="348.4" width="1.1" height="4.2" fill="#fff" />
<rect x="97.9" y="355" width="1" height="1.6" fill="#fff" />
<rect x="97.9" y="357.6" width="1" height="1.6" fill="#fff" />
<rect x="99.9" y="355" width="1.1" height="4.2" fill="#fff" />
<rect x="101.9" y="355" width="1.1" height="4.2" fill="#fff" />
<rect x="97.9" y="361.6" width="1" height="1.6" fill="#fff" />
<rect x="97.9" y="364.2" width="1" height="1.6" fill="#fff" />
<rect x="99.9" y="361.6" width="1.1" height="4.2" fill="#fff" />
<rect x="101.9" y="361.6" width="1.1" height="4.2" fill="#fff" />
<rect x="97.9" y="368.2" width="1" height="1.6" fill="#fff" />
<rect x="97.9" y="370.8" width="1" height="1.6" fill="#fff" />
<rect x="99.9" y="368.2" width="1.1" height="4.2" fill="#fff" />
<rect x="101.9" y="368.2" width="1.1" height="4.2" fill="#fff" />
<rect x="97.9" y="374.8" width="1" height="1.6" fill="#fff" />
<rect x="97.9" y="377.4" width="1" height="1.6" fill="#fff" />
<rect x="99.9" y="374.8" width="1.1" height="4.2" fill="#fff" />
<rect x="101.9" y="374.8" width="1.1" height="4.2" fill="#fff" />
<rect x="97.9" y="381.4" width="1" height="1.6" fill="#fff" />
<rect x="97.9" y="384" width="1" height="1.6" fill="#fff" />
<rect x="99.9" y="381.4" width="1.1" height="4.2" fill="#fff" />
<rect x="101.9" y="381.4" width="1.1" height="4.2" fill="#fff" />
<rect x="97.9" y="388" width="1" height="1.6" fill="#fff" />
<rect x="97.9" y="390.6" width="1" height="1.6" fill="#fff" />
<rect x="99.9" y="388" width="1.1" height="4.2" fill="#fff" />
<rect x="101.9" y="388" width="1.1" height="4.2" fill="#fff" />
<rect x="97.9" y="394.6" width="1" height="1.6" fill="#fff" />
<rect x="97.9" y="397.2" width="1" height="1.6" fill="#fff" />
<rect x="99.9" y="394.6" width="1.1" height="4.2" fill="#fff" />
<rect x="101.9" y="394.6" width="1.1" height="4.2" fill="#fff" />
<rect x="97.9" y="480.4" width="1" height="1.6" fill="#fff" />
<rect x="97.9" y="483" width="1" height="1.6" fill="#fff" />
<rect x="99.9" y="480.4" width="1.1" height="4.2" fill="#fff" />
<rect x="101.9" y="480.4" width="1.1" height="4.2" fill="#fff" />
<rect x="97.9" y="487" width="1" height="1.6" fill="#fff" />
<rect x="97.9" y="489.6" width="1" height="1.6" fill="#fff" />
<rect x="99.9" y="487" width="1.1" height="4.2" fill="#fff" />
<rect x="101.9" y="487" width="1.1" height="4.2" fill="#fff" />
<rect x="97.9" y="493.6" width="1" height="1.6" fill="#fff" />
<rect x="97.9" y="496.2" width="1" height="1.6" fill="#fff" />
<rect x="99.9" y="493.6" width="1.1" height="4.2" fill="#fff" />
<rect x="101.9" y="493.6" width="1.1" height="4.2" fill="#fff" />
<rect x="97.9" y="500.2" width="1" height="1.6" fill="#fff" />
<rect x="97.9" y="502.8" width="1" height="1.6" fill="#fff" />
<rect x="99.9" y="500.2" width="1.1" height="4.2" fill="#fff" />
<rect x="101.9" y="500.2" width="1.1" height="4.2" fill="#fff" />
<rect x="97.9" y="506.8" width="1" height="1.6" fill="#fff" />
<rect x="97.9" y="509.4" width="1" height="1.6" fill="#fff" />
<rect x="99.9" y="506.8" width="1.1" height="4.2" fill="#fff" />
<rect x="101.9" y="506.8" width="1.1" height="4.2" fill="#fff" />
<rect x="97.9" y="513.4" width="1" height="1.6" fill="#fff" />
<rect x="97.9" y="516" width="1" height="1.6" fill="#fff" />
<rect x="99.9" y="513.4" width="1.1" height="4.2" fill="#fff" />
<rect x="101.9" y="513.4" width="1.1" height="4.2" fill="#fff" />
<rect x="97.9" y="520" width="1" height="1.6" fill="#fff" />
<rect x="97.9" y="522.6" width="1" height="1.6" fill="#fff" />
<rect x="99.9" y="520" width="1.1" height="4.2" fill="#fff" />
<rect x="101.9" y="520" width="1.1" height="4.2" fill="#fff" />
<rect x="97.9" y="526.6" width="1" height="1.6" fill="#fff" />
<rect x="97.9" y="529.2" width="1" height="1.6" fill="#fff" />
<rect x="99.9" y="526.6" width="1.1" height="4.2" fill="#fff" />
<rect x="101.9" y="526.6" width="1.1" height="4.2" fill="#fff" />
<rect x="97.9" y="533.2" width="1" height="1.6" fill="#fff" />
<rect x="97.9" y="535.8" width="1" height="1.6" fill="#fff" />
<rect x="99.9" y="533.2" width="1.1" height="4.2" fill="#fff" />
<rect x="101.9" y="533.2" width="1.1" height="4.2" fill="#fff" />
<rect x="97.9" y="539.8" width="1" height="1.6" fill="#fff" />
<rect x="97.9" y="542.4" width="1" height="1.6" fill="#fff" />
<rect x="99.9" y="539.8" width="1.1" height="4.2" fill="#fff" />
<rect x="101.9" y="539.8" width="1.1" height="4.2" fill="#fff" />
<rect x="97.9" y="546.4" width="1" height="1.6" fill="#fff" />
<rect x="97.9" y="549" width="1" height="1.6" fill="#fff" />
<rect x="99.9" y="546.4" width="1.1" height="4.2" fill="#fff" />
<rect x="101.9" y="546.4" width="1.1" height="4.2" fill="#fff" />
<rect x="97.9" y="553" width="1" height="1.6" fill="#fff" />
<rect x="97.9" y="555.6" width="1" height="1.6" fill="#fff" />
<rect x="99.9" y="553" width="1.1" height="4.2" fill="#fff" />
<rect x="101.9" y="553" width="1.1" height="4.2" fill="#fff" />
<rect x="100" y="402.5" width="14" height="71.9" fill="#fff" />
<rect x="172" y="300" width="20" height="5" fill="#000" />
<rect x="169" y="304" width="21" height="11" fill="#000" />
<rect x="179.4" y="314" width="20" height="249.6" fill="#000" />
<rect x="169" y="562.6" width="21" height="10.4" fill="#000" />
<rect x="172" y="572" width="20" height="5" fill="#000" />
<rect x="180.2" y="322" width="1" height="1.6" fill="#fff" />
<rect x="180.2" y="324.6" width="1" height="1.6" fill="#fff" />
<rect x="182" y="322" width="1.1" height="4.2" fill="#fff" />
<rect x="180.2" y="328.6" width="1" height="1.6" fill="#fff" />
<rect x="180.2" y="331.2" width="1" height="1.6" fill="#fff" />
<rect x="182" y="328.6" width="1.1" height="4.2" fill="#fff" />
<rect x="180.2" y="335.2" width="1" height="1.6" fill="#fff" />
<rect x="180.2" y="337.8" width="1" height="1.6" fill="#fff" />
<rect x="182" y="335.2" width="1.1" height="4.2" fill="#fff" />
<rect x="180.2" y="341.8" width="1" height="1.6" fill="#fff" />
<rect x="180.2" y="344.4" width="1" height="1.6" fill="#fff" />
<rect x="182" y="341.8" width="1.1" height="4.2" fill="#fff" />
<rect x="180.2" y="348.4" width="1" height="1.6" fill="#fff" />
<rect x="180.2" y="351" width="1" height="1.6" fill="#fff" />
<rect x="182" y="348.4" width="1.1" height="4.2" fill="#fff" />
<rect x="180.2" y="355" width="1" height="1.6" fill="#fff" />
<rect x="180.2" y="357.6" width="1" height="1.6" fill="#fff" />
<rect x="182" y="355" width="1.1" height="4.2" fill="#fff" />
<rect x="180.2" y="361.6" width="1" height="1.6" fill="#fff" />
<rect x="180.2" y="364.2" width="1" height="1.6" fill="#fff" />
<rect x="182" y="361.6" width="1.1" height="4.2" fill="#fff" />
<rect x="180.2" y="368.2" width="1" height="1.6" fill="#fff" />
<rect x="180.2" y="370.8" width="1" height="1.6" fill="#fff" />
<rect x="182" y="368.2" width="1.1" height="4.2" fill="#fff" />
<rect x="180.2" y="374.8" width="1" height="1.6" fill="#fff" />
<rect x="180.2" y="377.4" width="1" height="1.6" fill="#fff" />
<rect x="182" y="374.8" width="1.1" height="4.2" fill="#fff" />
<rect x="180.2" y="381.4" width="1" height="1.6" fill="#fff" />
<rect x="180.2" y="384" width="1" height="1.6" fill="#fff" />
<rect x="182" y="381.4" width="1.1" height="4.2" fill="#fff" />
<rect x="180.2" y="388" width="1" height="1.6" fill="#fff" />
<rect x="180.2" y="390.6" width="1" height="1.6" fill="#fff" />
<rect x="182" y="388" width="1.1" height="4.2" fill="#fff" />
<rect x="180.2" y="394.6" width="1" height="1.6" fill="#fff" />
<rect x="180.2" y="397.2" width="1" height="1.6" fill="#fff" />
<rect x="182" y="394.6" width="1.1" height="4.2" fill="#fff" />
<rect x="180.2" y="480.4" width="1" height="1.6" fill="#fff" />
<rect x="180.2" y="483" width="1" height="1.6" fill="#fff" />
<rect x="182" y="480.4" width="1.1" height="4.2" fill="#fff" />
<rect x="180.2" y="487" width="1" height="1.6" fill="#fff" />
<rect x="180.2" y="489.6" width="1" height="1.6" fill="#fff" />
<rect x="182" y="487" width="1.1" height="4.2" fill="#fff" />
<rect x="180.2" y="493.6" width="1" height="1.6" fill="#fff" />
<rect x="180.2" y="496.2" width="1" height="1.6" fill="#fff" />
<rect x="182" y="493.6" width="1.1" height="4.2" fill="#fff" />
<rect x="180.2" y="500.2" width="1" height="1.6" fill="#fff" />
<rect x="180.2" y="502.8" width="1" height="1.6" fill="#fff" />
<rect x="182" y="500.2" width="1.1" height="4.2" fill="#fff" />
<rect x="180.2" y="506.8" width="1" height="1.6" fill="#fff" />
<rect x="180.2" y="509.4" width="1" height="1.6" fill="#fff" />
<rect x="182" y="506.8" width="1.1" height="4.2" fill="#fff" />
<rect x="180.2" y="513.4" width="1" height="1.6" fill="#fff" />
<rect x="180.2" y="516" width="1" height="1.6" fill="#fff" />
<rect x="182" y="513.4" width="1.1" height="4.2" fill="#fff" />
<rect x="180.2" y="520" width="1" height="1.6" fill="#fff" />
<rect x="180.2" y="522.6" width="1" height="1.6" fill="#fff" />
<rect x="182" y="520" width="1.1" height="4.2" fill="#fff" />
<rect x="180.2" y="526.6" width="1" height="1.6" fill="#fff" />
<rect x="180.2" y="529.2" width="1" height="1.6" fill="#fff" />
<rect x="182" y="526.6" width="1.1" height="4.2" fill="#fff" />
<rect x="180.2" y="533.2" width="1" height="1.6" fill="#fff" />
<rect x="180.2" y="535.8" width="1" height="1.6" fill="#fff" />
<rect x="182" y="533.2" width="1.1" height="4.2" fill="#fff" />
<rect x="180.2" y="539.8" width="1" height="1.6" fill="#fff" />
<rect x="180.2" y="542.4" width="1" height="1.6" fill="#fff" />
<rect x="182" y="539.8" width="1.1" height="4.2" fill="#fff" />
<rect x="180.2" y="546.4" width="1" height="1.6" fill="#fff" />
<rect x="180.2" y="549" width="1" height="1.6" fill="#fff" />
<rect x="182" y="546.4" width="1.1" height="4.2" fill="#fff" />
<rect x="180.2" y="553" width="1" height="1.6" fill="#fff" />
<rect x="180.2" y="555.6" width="1" height="1.6" fill="#fff" />
<rect x="182" y="553" width="1.1" height="4.2" fill="#fff" />
<rect x="182.4" y="402.5" width="14" height="71.9" fill="#fff" />
<rect x="258" y="300" width="20" height="5" fill="#000" />
<rect x="255" y="304" width="21" height="11" fill="#000" />
<rect x="264" y="314" width="20" height="249.6" fill="#000" />
<rect x="255" y="562.6" width="21" height="10.4" fill="#000" />
<rect x="258" y="572" width="20" height="5" fill="#000" />
<rect x="265.4" y="322" width="1" height="1.6" fill="#fff" />
<rect x="265.4" y="324.6" width="1" height="1.6" fill="#fff" />
<rect x="268.6" y="322" width="1.1" height="4.2" fill="#fff" />
<rect x="265.4" y="328.6" width="1" height="1.6" fill="#fff" />
<rect x="265.4" y="331.2" width="1" height="1.6" fill="#fff" />
<rect x="268.6" y="328.6" width="1.1" height="4.2" fill="#fff" />
<rect x="265.4" y="335.2" width="1" height="1.6" fill="#fff" />
<rect x="265.4" y="337.8" width="1" height="1.6" fill="#fff" />
<rect x="268.6" y="335.2" width="1.1" height="4.2" fill="#fff" />
<rect x="265.4" y="341.8" width="1" height="1.6" fill="#fff" />
<rect x="265.4" y="344.4" width="1" height="1.6" fill="#fff" />
<rect x="268.6" y="341.8" width="1.1" height="4.2" fill="#fff" />
<rect x="265.4" y="348.4" width="1" height="1.6" fill="#fff" />
<rect x="265.4" y="351" width="1" height="1.6" fill="#fff" />
<rect x="268.6" y="348.4" width="1.1" height="4.2" fill="#fff" />
<rect x="265.4" y="355" width="1" height="1.6" fill="#fff" />
<rect x="265.4" y="357.6" width="1" height="1.6" fill="#fff" />
<rect x="268.6" y="355" width="1.1" height="4.2" fill="#fff" />
<rect x="265.4" y="361.6" width="1" height="1.6" fill="#fff" />
<rect x="265.4" y="364.2" width="1" height="1.6" fill="#fff" />
<rect x="268.6" y="361.6" width="1.1" height="4.2" fill="#fff" />
<rect x="265.4" y="368.2" width="1" height="1.6" fill="#fff" />
<rect x="265.4" y="370.8" width="1" height="1.6" fill="#fff" />
<rect x="268.6" y="368.2" width="1.1" height="4.2" fill="#fff" />
<rect x="265.4" y="374.8" width="1" height="1.6" fill="#fff" />
<rect x="265.4" y="377.4" width="1" height="1.6" fill="#fff" />
<rect x="268.6" y="374.8" width="1.1" height="4.2" fill="#fff" />
<rect x="265.4" y="381.4" width="1" height="1.6" fill="#fff" />
<rect x="265.4" y="384" width="1" height="1.6" fill="#fff" />
<rect x="268.6" y="381.4" width="1.1" height="4.2" fill="#fff" />
<rect x="265.4" y="388" width="1" height="1.6" fill="#fff" />
<rect x="265.4" y="390.6" width="1" height="1.6" fill="#fff" />
<rect x="268.6" y="388" width="1.1" height="4.2" fill="#fff" />
<rect x="265.4" y="394.6" width="1" height="1.6" fill="#fff" />
<rect x="265.4" y="397.2" width="1" height="1.6" fill="#fff" />
<rect x="268.6" y="394.6" width="1.1" height="4.2" fill="#fff" />
<rect x="265.4" y="401.2" width="1" height="1.6" fill="#fff" />
<rect x="265.4" y="403.8" width="1" height="1.6" fill="#fff" />
<rect x="265.4" y="407.8" width="1" height="1.6" fill="#fff" />
<rect x="265.4" y="410.4" width="1" height="1.6" fill="#fff" />
<rect x="265.4" y="414.4" width="1" height="1.6" fill="#fff" />
<rect x="265.4" y="417" width="1" height="1.6" fill="#fff" />
<rect x="265.4" y="421" width="1" height="1.6" fill="#fff" />
<rect x="265.4" y="423.6" width="1" height="1.6" fill="#fff" />
<rect x="265.4" y="427.6" width="1" height="1.6" fill="#fff" />
<rect x="265.4" y="430.2" width="1" height="1.6" fill="#fff" />
<rect x="265.4" y="434.2" width="1" height="1.6" fill="#fff" />
<rect x="265.4" y="436.8" width="1" height="1.6" fill="#fff" />
<rect x="265.4" y="440.8" width="1" height="1.6" fill="#fff" />
<rect x="265.4" y="443.4" width="1" height="1.6" fill="#fff" />
<rect x="265.4" y="447.4" width="1" height="1.6" fill="#fff" />
<rect x="265.4" y="450" width="1" height="1.6" fill="#fff" />
<rect x="265.4" y="454" width="1" height="1.6" fill="#fff" />
<rect x="265.4" y="456.6" width="1" height="1.6" fill="#fff" />
<rect x="265.4" y="460.6" width="1" height="1.6" fill="#fff" />
<rect x="265.4" y="463.2" width="1" height="1.6" fill="#fff" />
<rect x="265.4" y="467.2" width="1" height="1.6" fill="#fff" />
<rect x="265.4" y="469.8" width="1" height="1.6" fill="#fff" />
<rect x="265.4" y="473.8" width="1" height="1.6" fill="#fff" />
<rect x="265.4" y="476.4" width="1" height="1.6" fill="#fff" />
<rect x="265.4" y="480.4" width="1" height="1.6" fill="#fff" />
<rect x="265.4" y="483" width="1" height="1.6" fill="#fff" />
<rect x="268.6" y="480.4" width="1.1" height="4.2" fill="#fff" />
<rect x="265.4" y="487" width="1" height="1.6" fill="#fff" />
<rect x="265.4" y="489.6" width="1" height="1.6" fill="#fff" />
<rect x="268.6" y="487" width="1.1" height="4.2" fill="#fff" />
<rect x="265.4" y="493.6" width="1" height="1.6" fill="#fff" />
<rect x="265.4" y="496.2" width="1" height="1.6" fill="#fff" />
<rect x="268.6" y="493.6" width="1.1" height="4.2" fill="#fff" />
<rect x="265.4" y="500.2" width="1" height="1.6" fill="#fff" />
<rect x="265.4" y="502.8" width="1" height="1.6" fill="#fff" />
<rect x="268.6" y="500.2" width="1.1" height="4.2" fill="#fff" />
<rect x="265.4" y="506.8" width="1" height="1.6" fill="#fff" />
<rect x="265.4" y="509.4" width="1" height="1.6" fill="#fff" />
<rect x="268.6" y="506.8" width="1.1" height="4.2" fill="#fff" />
<rect x="265.4" y="513.4" width="1" height="1.6" fill="#fff" />
<rect x="265.4" y="516" width="1" height="1.6" fill="#fff" />
<rect x="268.6" y="513.4" width="1.1" height="4.2" fill="#fff" />
<rect x="265.4" y="520" width="1" height="1.6" fill="#fff" />
<rect x="265.4" y="522.6" width="1" height="1.6" fill="#fff" />
<rect x="268.6" y="520" width="1.1" height="4.2" fill="#fff" />
<rect x="265.4" y="526.6" width="1" height="1.6" fill="#fff" />
<rect x="265.4" y="529.2" width="1" height="1.6" fill="#fff" />
<rect x="268.6" y="526.6" width="1.1" height="4.2" fill="#fff" />
<rect x="265.4" y="533.2" width="1" height="1.6" fill="#fff" />
<rect x="265.4" y="535.8" width="1" height="1.6" fill="#fff" />
<rect x="268.6" y="533.2" width="1.1" height="4.2" fill="#fff" />
<rect x="265.4" y="539.8" width="1" height="1.6" fill="#fff" />
<rect x="265.4" y="542.4" width="1" height="1.6" fill="#fff" />
<rect x="268.6" y="539.8" width="1.1" height="4.2" fill="#fff" />
<rect x="265.4" y="546.4" width="1" height="1.6" fill="#fff" />
<rect x="265.4" y="549" width="1" height="1.6" fill="#fff" />
<rect x="268.6" y="546.4" width="1.1" height="4.2" fill="#fff" />
<rect x="265.4" y="553" width="1" height="1.6" fill="#fff" />
<rect x="265.4" y="555.6" width="1" height="1.6" fill="#fff" />
<rect x="268.6" y="553" width="1.1" height="4.2" fill="#fff" />
<rect x="269.6" y="401.6" width="15.4" height="73.8" fill="#000" />
<rect x="269.6" y="402.5" width="14.2" height="71.9" fill="#fff" />
<rect x="348" y="300" width="20" height="5" fill="#000" />
<rect x="345" y="304" width="21" height="11" fill="#000" />
<rect x="355" y="314" width="20" height="249.6" fill="#000" />
<rect x="345" y="562.6" width="21" height="10.4" fill="#000" />
<rect x="348" y="572" width="20" height="5" fill="#000" />
<rect x="356.2" y="322" width="1" height="1.6" fill="#fff" />
<rect x="356.2" y="324.6" width="1" height="1.6" fill="#fff" />
<rect x="359.2" y="322" width="1.1" height="4.2" fill="#fff" />
<rect x="356.2" y="328.6" width="1" height="1.6" fill="#fff" />
<rect x="356.2" y="331.2" width="1" height="1.6" fill="#fff" />
<rect x="359.2" y="328.6" width="1.1" height="4.2" fill="#fff" />
<rect x="356.2" y="335.2" width="1" height="1.6" fill="#fff" />
<rect x="356.2" y="337.8" width="1" height="1.6" fill="#fff" />
<rect x="359.2" y="335.2" width="1.1" height="4.2" fill="#fff" />
<rect x="356.2" y="341.8" width="1" height="1.6" fill="#fff" />
<rect x="356.2" y="344.4" width="1" height="1.6" fill="#fff" />
<rect x="359.2" y="341.8" width="1.1" height="4.2" fill="#fff" />
<rect x="356.2" y="348.4" width="1" height="1.6" fill="#fff" />
<rect x="356.2" y="351" width="1" height="1.6" fill="#fff" />
<rect x="359.2" y="348.4" width="1.1" height="4.2" fill="#fff" />
<rect x="356.2" y="355" width="1" height="1.6" fill="#fff" />
<rect x="356.2" y="357.6" width="1" height="1.6" fill="#fff" />
<rect x="359.2" y="355" width="1.1" height="4.2" fill="#fff" />
<rect x="356.2" y="361.6" width="1" height="1.6" fill="#fff" />
<rect x="356.2" y="364.2" width="1" height="1.6" fill="#fff" />
<rect x="359.2" y="361.6" width="1.1" height="4.2" fill="#fff" />
<rect x="356.2" y="368.2" width="1" height="1.6" fill="#fff" />
<rect x="356.2" y="370.8" width="1" height="1.6" fill="#fff" />
<rect x="359.2" y="368.2" width="1.1" height="4.2" fill="#fff" />
<rect x="356.2" y="374.8" width="1" height="1.6" fill="#fff" />
<rect x="356.2" y="377.4" width="1" height="1.6" fill="#fff" />
<rect x="359.2" y="374.8" width="1.1" height="4.2" fill="#fff" />
<rect x="356.2" y="381.4" width="1" height="1.6" fill="#fff" />
<rect x="356.2" y="384" width="1" height="1.6" fill="#fff" />
<rect x="359.2" y="381.4" width="1.1" height="4.2" fill="#fff" />
<rect x="356.2" y="388" width="1" height="1.6" fill="#fff" />
<rect x="356.2" y="390.6" width="1" height="1.6" fill="#fff" />
<rect x="359.2" y="388" width="1.1" height="4.2" fill="#fff" />
<rect x="356.2" y="394.6" width="1" height="1.6" fill="#fff" />
<rect x="356.2" y="397.2" width="1" height="1.6" fill="#fff" />
<rect x="359.2" y="394.6" width="1.1" height="4.2" fill="#fff" />
<rect x="356.2" y="480.4" width="1" height="1.6" fill="#fff" />
<rect x="356.2" y="483" width="1" height="1.6" fill="#fff" />
<rect x="359.2" y="480.4" width="1.1" height="4.2" fill="#fff" />
<rect x="356.2" y="487" width="1" height="1.6" fill="#fff" />
<rect x="356.2" y="489.6" width="1" height="1.6" fill="#fff" />
<rect x="359.2" y="487" width="1.1" height="4.2" fill="#fff" />
<rect x="356.2" y="493.6" width="1" height="1.6" fill="#fff" />
<rect x="356.2" y="496.2" width="1" height="1.6" fill="#fff" />
<rect x="359.2" y="493.6" width="1.1" height="4.2" fill="#fff" />
<rect x="356.2" y="500.2" width="1" height="1.6" fill="#fff" />
<rect x="356.2" y="502.8" width="1" height="1.6" fill="#fff" />
<rect x="359.2" y="500.2" width="1.1" height="4.2" fill="#fff" />
<rect x="356.2" y="506.8" width="1" height="1.6" fill="#fff" />
<rect x="356.2" y="509.4" width="1" height="1.6" fill="#fff" />
<rect x="359.2" y="506.8" width="1.1" height="4.2" fill="#fff" />
<rect x="356.2" y="513.4" width="1" height="1.6" fill="#fff" />
<rect x="356.2" y="516" width="1" height="1.6" fill="#fff" />
<rect x="359.2" y="513.4" width="1.1" height="4.2" fill="#fff" />
<rect x="356.2" y="520" width="1" height="1.6" fill="#fff" />
<rect x="356.2" y="522.6" width="1" height="1.6" fill="#fff" />
<rect x="359.2" y="520" width="1.1" height="4.2" fill="#fff" />
<rect x="356.2" y="526.6" width="1" height="1.6" fill="#fff" />
<rect x="356.2" y="529.2" width="1" height="1.6" fill="#fff" />
<rect x="359.2" y="526.6" width="1.1" height="4.2" fill="#fff" />
<rect x="356.2" y="533.2" width="1" height="1.6" fill="#fff" />
<rect x="356.2" y="535.8" width="1" height="1.6" fill="#fff" />
<rect x="359.2" y="533.2" width="1.1" height="4.2" fill="#fff" />
<rect x="356.2" y="539.8" width="1" height="1.6" fill="#fff" />
<rect x="356.2" y="542.4" width="1" height="1.6" fill="#fff" />
<rect x="359.2" y="539.8" width="1.1" height="4.2" fill="#fff" />
<rect x="356.2" y="546.4" width="1" height="1.6" fill="#fff" />
<rect x="356.2" y="549" width="1" height="1.6" fill="#fff" />
<rect x="359.2" y="546.4" width="1.1" height="4.2" fill="#fff" />
<rect x="356.2" y="553" width="1" height="1.6" fill="#fff" />
<rect x="356.2" y="555.6" width="1" height="1.6" fill="#fff" />
<rect x="359.2" y="553" width="1.1" height="4.2" fill="#fff" />
<rect x="357" y="402.5" width="14" height="71.9" fill="#fff" />
</g>
<text transform="translate(106.4 416.3) scale(0.82 1)" font-size="13" text-anchor="middle" fill="#000" font-weight="normal" letter-spacing="0.00" >B</text>
<text transform="translate(106.4 430.7) scale(0.82 1)" font-size="13" text-anchor="middle" fill="#000" font-weight="normal" letter-spacing="0.00" >A</text>
<text transform="translate(106.4 445.1) scale(0.82 1)" font-size="13" text-anchor="middle" fill="#000" font-weight="normal" letter-spacing="0.00" >N</text>
<text transform="translate(106.4 458.5) scale(0.82 1)" font-size="13" text-anchor="middle" fill="#000" font-weight="normal" letter-spacing="0.00" >K</text>
<text transform="translate(106.4 472.9) scale(0.82 1)" font-size="13" text-anchor="middle" fill="#000" font-weight="normal" letter-spacing="0.00" >0</text>
<text transform="translate(188.4 416.3) scale(0.82 1)" font-size="13" text-anchor="middle" fill="#000" font-weight="normal" letter-spacing="0.00" >B</text>
<text transform="translate(188.4 430.7) scale(0.82 1)" font-size="13" text-anchor="middle" fill="#000" font-weight="normal" letter-spacing="0.00" >A</text>
<text transform="translate(188.4 445.1) scale(0.82 1)" font-size="13" text-anchor="middle" fill="#000" font-weight="normal" letter-spacing="0.00" >N</text>
<text transform="translate(188.4 458.5) scale(0.82 1)" font-size="13" text-anchor="middle" fill="#000" font-weight="normal" letter-spacing="0.00" >K</text>
<text transform="translate(188.4 472.9) scale(0.82 1)" font-size="13" text-anchor="middle" fill="#000" font-weight="normal" letter-spacing="0.00" >1</text>
<text transform="translate(274.8 416.3) scale(0.82 1)" font-size="13" text-anchor="middle" fill="#000" font-weight="normal" letter-spacing="0.00" >B</text>
<text transform="translate(274.8 430.7) scale(0.82 1)" font-size="13" text-anchor="middle" fill="#000" font-weight="normal" letter-spacing="0.00" >A</text>
<text transform="translate(274.8 445.1) scale(0.82 1)" font-size="13" text-anchor="middle" fill="#000" font-weight="normal" letter-spacing="0.00" >N</text>
<text transform="translate(274.8 458.5) scale(0.82 1)" font-size="13" text-anchor="middle" fill="#000" font-weight="normal" letter-spacing="0.00" >K</text>
<text transform="translate(274.8 472.9) scale(0.82 1)" font-size="13" text-anchor="middle" fill="#000" font-weight="normal" letter-spacing="0.00" >2</text>
<text transform="translate(363.6 416.3) scale(0.82 1)" font-size="13" text-anchor="middle" fill="#000" font-weight="normal" letter-spacing="0.00" >B</text>
<text transform="translate(363.6 430.7) scale(0.82 1)" font-size="13" text-anchor="middle" fill="#000" font-weight="normal" letter-spacing="0.00" >A</text>
<text transform="translate(363.6 445.1) scale(0.82 1)" font-size="13" text-anchor="middle" fill="#000" font-weight="normal" letter-spacing="0.00" >N</text>
<text transform="translate(363.6 458.5) scale(0.82 1)" font-size="13" text-anchor="middle" fill="#000" font-weight="normal" letter-spacing="0.00" >K</text>
<text transform="translate(363.6 472.9) scale(0.82 1)" font-size="13" text-anchor="middle" fill="#000" font-weight="normal" letter-spacing="0.00" >3</text>
<g shape-rendering="crispEdges">
<rect x="386" y="521" width="102" height="13.2" fill="#000" />
<rect x="391.9" y="522" width="1.2" height="11.2" fill="#fff" />
<rect x="397.9" y="522" width="1.2" height="11.2" fill="#fff" />
<rect x="403.9" y="522" width="1.2" height="11.2" fill="#fff" />
<rect x="409.9" y="522" width="1.2" height="11.2" fill="#fff" />
<rect x="415.9" y="522" width="1.2" height="11.2" fill="#fff" />
<rect x="421.9" y="522" width="1.2" height="11.2" fill="#fff" />
<rect x="427.9" y="522" width="1.2" height="11.2" fill="#fff" />
<rect x="433.9" y="522" width="1.2" height="11.2" fill="#fff" />
<rect x="439.9" y="522" width="1.2" height="11.2" fill="#fff" />
<rect x="445.9" y="522" width="1.2" height="11.2" fill="#fff" />
<rect x="451.9" y="522" width="1.2" height="11.2" fill="#fff" />
<rect x="457.9" y="522" width="1.2" height="11.2" fill="#fff" />
<rect x="463.9" y="522" width="1.2" height="11.2" fill="#fff" />
<rect x="469.9" y="522" width="1.2" height="11.2" fill="#fff" />
<rect x="475.9" y="522" width="1.2" height="11.2" fill="#fff" />
<rect x="481.9" y="522" width="1.2" height="11.2" fill="#fff" />
<rect x="387" y="527" width="100" height="1.1" fill="#fff" />
<rect x="387" y="532.1" width="100" height="1" fill="#fff" />
<rect x="486.1" y="522" width="0.9" height="11.2" fill="#fff" />
<rect x="388.3" y="529.2" width="2.8" height="2" fill="#fff" />
</g>
<g shape-rendering="crispEdges">
<rect x="369" y="572" width="119" height="12.6" fill="#000" />
<rect x="374.85" y="573" width="1.2" height="10.6" fill="#fff" />
<rect x="380.8" y="573" width="1.2" height="10.6" fill="#fff" />
<rect x="386.75" y="573" width="1.2" height="10.6" fill="#fff" />
<rect x="392.7" y="573" width="1.2" height="10.6" fill="#fff" />
<rect x="398.65" y="573" width="1.2" height="10.6" fill="#fff" />
<rect x="404.6" y="573" width="1.2" height="10.6" fill="#fff" />
<rect x="410.55" y="573" width="1.2" height="10.6" fill="#fff" />
<rect x="416.5" y="573" width="1.2" height="10.6" fill="#fff" />
<rect x="422.45" y="573" width="1.2" height="10.6" fill="#fff" />
<rect x="428.4" y="573" width="1.2" height="10.6" fill="#fff" />
<rect x="434.35" y="573" width="1.2" height="10.6" fill="#fff" />
<rect x="440.3" y="573" width="1.2" height="10.6" fill="#fff" />
<rect x="446.25" y="573" width="1.2" height="10.6" fill="#fff" />
<rect x="452.2" y="573" width="1.2" height="10.6" fill="#fff" />
<rect x="458.15" y="573" width="1.2" height="10.6" fill="#fff" />
<rect x="464.1" y="573" width="1.2" height="10.6" fill="#fff" />
<rect x="470.05" y="573" width="1.2" height="10.6" fill="#fff" />
<rect x="476" y="573" width="1.2" height="10.6" fill="#fff" />
<rect x="481.95" y="573" width="1.2" height="10.6" fill="#fff" />
<rect x="370" y="578" width="117" height="1.1" fill="#fff" />
<rect x="370" y="582.5" width="117" height="1" fill="#fff" />
<rect x="486.1" y="573" width="0.9" height="10.6" fill="#fff" />
<rect x="371.3" y="580.2" width="2.75" height="2" fill="#fff" />
</g>
<g shape-rendering="crispEdges">
<rect x="650" y="581" width="55" height="13" fill="#000" />
<rect x="651" y="582" width="1" height="11" fill="#fff" />
<rect x="657" y="582" width="1" height="11" fill="#fff" />
<rect x="662" y="582" width="2" height="11" fill="#fff" />
<rect x="669" y="582" width="1" height="11" fill="#fff" />
<rect x="675" y="582" width="1" height="11" fill="#fff" />
<rect x="681" y="582" width="1" height="11" fill="#fff" />
<rect x="685" y="582" width="2" height="11" fill="#fff" />
<rect x="692" y="582" width="1" height="11" fill="#fff" />
<rect x="698" y="582" width="1" height="11" fill="#fff" />
<rect x="703" y="582" width="1" height="11" fill="#fff" />
<rect x="651" y="587" width="53" height="1" fill="#fff" />
<rect x="653" y="589" width="3" height="3" fill="#fff" />
</g>
<path d="M455.6 503 L456.6 506 L458.4 510 L459.5 521.5 L460.5 521.5 L461.6 510 L463.4 506 L464.4 503 Z" fill="#fff" stroke="#000" stroke-width="1.6"/>
<rect x="445.2" y="488.4" width="31.2" height="15.4" rx="3" ry="3" fill="#fff" stroke="#000" stroke-width="2"/>
<text transform="translate(461.05 499.854) scale(0.82 1)" font-size="13" text-anchor="middle" fill="#000" font-weight="normal" letter-spacing="2.07" >CN6</text>
<rect x="456" y="501" width="8" height="4.2" fill="#fff"/>
<path d="M489 562.5 L479.4 572 L481 572 L491.5 564 Z" fill="#000" stroke="#000" stroke-width="1.2"/>
<rect x="487.2" y="547.4" width="32.6" height="16.4" rx="3" ry="3" fill="#fff" stroke="#000" stroke-width="2"/>
<text transform="translate(501.75 559.354) scale(0.82 1)" font-size="13" text-anchor="middle" fill="#000" font-weight="normal" letter-spacing="2.07" >CN5</text>
<path d="M672.6 562.6 L673.6 565.6 L675.4 569.6 L676.5 581.5 L677.5 581.5 L678.6 569.6 L680.4 565.6 L681.4 562.6 Z" fill="#fff" stroke="#000" stroke-width="1.6"/>
<rect x="661.8" y="547.2" width="31.8" height="16.4" rx="3" ry="3" fill="#fff" stroke="#000" stroke-width="2"/>
<text transform="translate(677.95 559.154) scale(0.82 1)" font-size="13" text-anchor="middle" fill="#000" font-weight="normal" letter-spacing="2.07" >JP6</text>
<rect x="673" y="561" width="8" height="4.2" fill="#fff"/>
<g shape-rendering="crispEdges">
<rect x="623" y="272" width="7" height="14" fill="#000" />
<rect x="624" y="273" width="5" height="12" fill="#fff" />
<rect x="624" y="274" width="4" height="4" fill="#000" />
<rect x="624" y="280" width="4" height="4.4" fill="#000" />
</g>
<path d="M606.6 273.79999999999995 L608.2 273.79999999999995 L610.6 276.5 L623.5 277.9 L623.5 279.0 L610.6 280.4 L608.2 283.0 L606.6 283.0 Z" fill="#fff" stroke="#000" stroke-width="1.7" stroke-linejoin="miter"/>
<rect x="574" y="270" width="33.7" height="16.8" rx="3" ry="3" fill="#fff" stroke="#000" stroke-width="2"/>
<text transform="translate(591.1 282.154) scale(0.82 1)" font-size="13" text-anchor="middle" fill="#000" font-weight="normal" letter-spacing="2.07" >JP7</text>
<rect x="605.6" y="274.8" width="3.4" height="7.2" fill="#fff"/>
<g shape-rendering="crispEdges">
<rect x="793" y="294" width="7" height="19" fill="#000" />
<rect x="794" y="295" width="5" height="3.35" fill="#fff" />
<rect x="795.1" y="296" width="2.8" height="1.35" fill="#000" />
<rect x="796" y="296.9" width="1" height="-0.55" fill="#fff" />
<rect x="794" y="300.82" width="5" height="1.5" fill="#fff" />
<rect x="794" y="305.57" width="5" height="1.5" fill="#fff" />
<rect x="794" y="310.32" width="5" height="1.5" fill="#fff" />
</g>
<path d="M793.5 276.6 L794.5 279.6 L795.6999999999999 283.6 L796.8 294.5 L797.8 294.5 L798.9 283.6 L800.0999999999999 279.6 L801.0999999999999 276.6 Z" fill="#fff" stroke="#000" stroke-width="1.6"/>
<rect x="782" y="261" width="32" height="16.5" rx="3" ry="3" fill="#fff" stroke="#000" stroke-width="2"/>
<text transform="translate(798.2 273.147) scale(0.82 1)" font-size="13.4" text-anchor="middle" fill="#000" font-weight="normal" letter-spacing="1.95" >JP3</text>
<rect x="794.4" y="275" width="5.8" height="4" fill="#fff"/>
<g shape-rendering="crispEdges">
<rect x="662" y="258" width="112" height="23.7" fill="#000" />
<rect x="663" y="259" width="110.2" height="21.7" fill="#fff" />
<rect x="667" y="261" width="2" height="5" fill="#000" />
<rect x="665" y="262" width="6" height="2" fill="#000" />
<rect x="665" y="268" width="7" height="3" fill="#000" />
<rect x="676" y="261" width="2" height="5" fill="#000" />
<rect x="674" y="262" width="6" height="2" fill="#000" />
<rect x="674" y="268" width="7" height="3" fill="#000" />
<rect x="685" y="261" width="2" height="5" fill="#000" />
<rect x="683" y="262" width="6" height="2" fill="#000" />
<rect x="683" y="268" width="7" height="3" fill="#000" />
<rect x="694" y="261" width="2" height="5" fill="#000" />
<rect x="692" y="262" width="6" height="2" fill="#000" />
<rect x="692" y="268" width="7" height="3" fill="#000" />
<rect x="704" y="261" width="2" height="5" fill="#000" />
<rect x="702" y="262" width="6" height="2" fill="#000" />
<rect x="702" y="268" width="7" height="3" fill="#000" />
<rect x="713" y="261" width="2" height="5" fill="#000" />
<rect x="711" y="262" width="6" height="2" fill="#000" />
<rect x="711" y="268" width="7" height="3" fill="#000" />
<rect x="722" y="261" width="2" height="5" fill="#000" />
<rect x="720" y="262" width="6" height="2" fill="#000" />
<rect x="720" y="268" width="7" height="3" fill="#000" />
<rect x="731" y="261" width="2" height="5" fill="#000" />
<rect x="729" y="262" width="6" height="2" fill="#000" />
<rect x="729" y="268" width="7" height="3" fill="#000" />
<rect x="740" y="261" width="2" height="5" fill="#000" />
<rect x="738" y="262" width="6" height="2" fill="#000" />
<rect x="738" y="268" width="7" height="3" fill="#000" />
<rect x="750" y="261" width="2" height="5" fill="#000" />
<rect x="748" y="262" width="6" height="2" fill="#000" />
<rect x="748" y="268" width="7" height="3" fill="#000" />
<rect x="759" y="261" width="2" height="5" fill="#000" />
<rect x="757" y="262" width="6" height="2" fill="#000" />
<rect x="757" y="268" width="7" height="3" fill="#000" />
<rect x="768" y="261" width="2" height="5" fill="#000" />
<rect x="766" y="262" width="6" height="2" fill="#000" />
<rect x="766" y="268" width="7" height="3" fill="#000" />
<rect x="663" y="266" width="110" height="1" fill="#000" />
<rect x="668" y="272.2" width="7" height="7" fill="#000" />
<rect x="669" y="273.2" width="5" height="5" fill="#fff" />
<rect x="678" y="272.2" width="7" height="7" fill="#000" />
<rect x="679" y="273.2" width="5" height="5" fill="#fff" />
<rect x="687" y="272.2" width="7" height="7" fill="#000" />
<rect x="688" y="273.2" width="5" height="5" fill="#fff" />
<rect x="696.5" y="272.2" width="7" height="7" fill="#000" />
<rect x="697.5" y="273.2" width="5" height="5" fill="#fff" />
<rect x="705.5" y="272.2" width="7" height="7" fill="#000" />
<rect x="706.5" y="273.2" width="5" height="5" fill="#fff" />
<rect x="715" y="272.2" width="7" height="7" fill="#000" />
<rect x="716" y="273.2" width="5" height="5" fill="#fff" />
<rect x="724.3" y="272.2" width="7" height="7" fill="#000" />
<rect x="725.3" y="273.2" width="5" height="5" fill="#fff" />
<rect x="733.5" y="272.2" width="7" height="7" fill="#000" />
<rect x="734.5" y="273.2" width="5" height="5" fill="#fff" />
<rect x="742.4" y="272.2" width="7" height="7" fill="#000" />
<rect x="743.4" y="273.2" width="5" height="5" fill="#fff" />
<rect x="752" y="272.2" width="7" height="7" fill="#000" />
<rect x="753" y="273.2" width="5" height="5" fill="#fff" />
<rect x="762.6" y="272.2" width="6" height="7" fill="#000" />
<rect x="763.6" y="273.2" width="4" height="5" fill="#fff" />
<rect x="663" y="272.6" width="2" height="6.2" fill="#000" />
<rect x="663" y="273.6" width="1" height="4.2" fill="#fff" />
<rect x="771.4" y="272.6" width="2" height="6.2" fill="#000" />
<rect x="772.4" y="273.6" width="1" height="4.2" fill="#fff" />
</g>
<g shape-rendering="crispEdges">
<rect x="654" y="289" width="127" height="42.6" fill="#000" />
<rect x="657" y="290.6" width="3.8" height="1.3" fill="#fff" />
<rect x="663.3" y="290.6" width="3.8" height="1.3" fill="#fff" />
<rect x="669.6" y="290.6" width="3.8" height="1.3" fill="#fff" />
<rect x="675.9" y="290.6" width="3.8" height="1.3" fill="#fff" />
<rect x="682.2" y="290.6" width="3.8" height="1.3" fill="#fff" />
<rect x="688.5" y="290.6" width="3.8" height="1.3" fill="#fff" />
<rect x="694.8" y="290.6" width="3.8" height="1.3" fill="#fff" />
<rect x="701.1" y="290.6" width="3.8" height="1.3" fill="#fff" />
<rect x="707.4" y="290.6" width="3.8" height="1.3" fill="#fff" />
<rect x="713.7" y="290.6" width="3.8" height="1.3" fill="#fff" />
<rect x="720" y="290.6" width="3.8" height="1.3" fill="#fff" />
<rect x="726.3" y="290.6" width="3.8" height="1.3" fill="#fff" />
<rect x="732.6" y="290.6" width="3.8" height="1.3" fill="#fff" />
<rect x="738.9" y="290.6" width="3.8" height="1.3" fill="#fff" />
<rect x="745.2" y="290.6" width="3.8" height="1.3" fill="#fff" />
<rect x="751.5" y="290.6" width="3.8" height="1.3" fill="#fff" />
<rect x="757.8" y="290.6" width="3.8" height="1.3" fill="#fff" />
<rect x="764.1" y="290.6" width="3.8" height="1.3" fill="#fff" />
<rect x="770.4" y="290.6" width="3.8" height="1.3" fill="#fff" />
<rect x="776.7" y="290.6" width="3.8" height="1.3" fill="#fff" />
<rect x="779" y="304" width="2" height="13" fill="#fff" />
<rect x="704" y="303" width="28" height="15" rx="2" fill="#fff" shape-rendering="auto"/>
<rect x="657" y="341" width="77" height="38.6" fill="#000" />
<rect x="590" y="399" width="89" height="40.6" fill="#000" />
<rect x="677" y="413" width="2" height="12.6" fill="#fff" />
<rect x="614" y="412" width="41" height="13.6" fill="#fff" />
</g>
<text transform="translate(718.8 313.8) scale(0.82 1)" font-size="13.2" text-anchor="middle" fill="#000" font-weight="normal" letter-spacing="2.68" >KBD</text>
<text transform="translate(634.8 423.1) scale(0.82 1)" font-size="13.2" text-anchor="middle" fill="#000" font-weight="normal" letter-spacing="2.93" >BIOS</text>
<text transform="translate(696.6 359) scale(0.8 1)" font-size="13.4" text-anchor="middle" fill="#fff" font-weight="bold" letter-spacing="1.31" >REAL TIME</text>
<text transform="translate(695.8 372) scale(0.8 1)" font-size="13.4" text-anchor="middle" fill="#fff" font-weight="bold" letter-spacing="1.12" >CLOCK</text>
<g shape-rendering="crispEdges">
<rect x="814.8" y="340" width="30.2" height="38" fill="#000" />
<rect x="811.8" y="347" width="3.2" height="23.5" fill="#000" />
<rect x="808.3" y="349" width="4.2" height="8" fill="#000" />
<rect x="809.3" y="350" width="3.2" height="6" fill="#fff" />
<rect x="808.3" y="360.7" width="4.2" height="7.8" fill="#000" />
<rect x="809.3" y="361.7" width="3.2" height="5.8" fill="#fff" />
<rect x="841" y="336" width="4" height="46" fill="#000" />
<rect x="842.5" y="334" width="2.5" height="50" fill="#000" />
<rect x="839" y="338" width="6" height="42" fill="#000" />
<rect x="806.2" y="388.3" width="33.3" height="39.7" fill="#000" />
<rect x="807.2" y="389.3" width="31.8" height="37.7" fill="#fff" />
<rect x="839" y="384" width="7" height="57" fill="#000" />
<rect x="822" y="433" width="33" height="6.2" fill="#000" />
<rect x="823" y="434" width="31" height="4.2" fill="#fff" />
<rect x="824" y="430" width="7" height="11.3" fill="#000" />
<rect x="839" y="430" width="7" height="11.3" fill="#000" />
<rect x="829" y="430.6" width="0.7" height="10.7" fill="#fff" />
<rect x="837" y="435" width="2" height="2.5" fill="#000" />
<rect x="796" y="441" width="49" height="44.7" fill="#000" />
<rect x="822" y="487.2" width="33" height="6.1" fill="#000" />
<rect x="823" y="488.2" width="31" height="4.1" fill="#fff" />
<rect x="824" y="485.7" width="7" height="11.6" fill="#000" />
<rect x="838.4" y="485.7" width="7.2" height="11.3" fill="#000" />
<rect x="829" y="485.7" width="0.7" height="11.3" fill="#fff" />
<rect x="836" y="488" width="1.2" height="5" fill="#000" />
<rect x="844" y="497" width="2" height="4.2" fill="#000" />
<rect x="835" y="503" width="18" height="5.8" fill="#000" />
<rect x="836" y="504" width="16" height="3.8" fill="#fff" />
<rect x="814.9" y="509.8" width="28.1" height="79.9" fill="#000" />
<rect x="839" y="501.2" width="7" height="98.8" fill="#000" />
<rect x="843" y="502.4" width="1" height="7.4" fill="#fff" />
<rect x="834" y="592" width="19" height="6" fill="#000" />
<rect x="835" y="593" width="17" height="4" fill="#fff" />
<rect x="839.4" y="590" width="6.4" height="10" fill="#000" />
</g>
<path d="M846 441.5 L858.5 441.5 L861.7 444 L861.7 481.5 Q861.7 483.5 859.7 483.5 L846 483.5" fill="#fff" stroke="#000" stroke-width="1.1"/>
<path d="M846 510.5 L857.5 510.5 L859.3 512.3 L859.3 586.5 Q859.3 589 857 589 L846 589" fill="#fff" stroke="#000" stroke-width="1.1"/>
<rect x="811" y="400" width="29.8" height="17" rx="3.5" ry="3.5" fill="#fff" stroke="#000" stroke-width="2"/>
<text transform="translate(826.15 412.254) scale(0.82 1)" font-size="13" text-anchor="middle" fill="#000" font-weight="normal" letter-spacing="2.07" >CN4</text>
<path d="M844 455 L849 455 Q852.4 455 852.4 458.4 L852.4 468.6 Q852.4 472 849 472 L844 472 Z" fill="#fff" stroke="#000" stroke-width="1.9"/>
<rect x="821.6" y="455.8" width="24" height="15.4" fill="#fff" shape-rendering="crispEdges"/>
<text transform="translate(837 468.2) scale(0.82 1)" font-size="13" text-anchor="middle" fill="#000" font-weight="normal" letter-spacing="2.07" >CN2</text>
<path d="M779.9 459.09999999999997 L781.5 459.09999999999997 L783.9 461.5 L796.5 462.9 L796.5 464.0 L783.9 465.4 L781.5 467.7 L779.9 467.7 Z" fill="#fff" stroke="#000" stroke-width="1.7" stroke-linejoin="miter"/>
<rect x="747.4" y="455" width="33.5" height="16.8" rx="3" ry="3" fill="#fff" stroke="#000" stroke-width="2.1"/>
<text transform="translate(764.4 467.154) scale(0.82 1)" font-size="13" text-anchor="middle" fill="#000" font-weight="normal" letter-spacing="2.07" >CN3</text>
<rect x="778.8" y="460.2" width="3.4" height="6.4" fill="#fff"/>
<path d="M844 541.4 L850.5 541.4 Q853.6 541.4 853.6 544.4 L853.6 554.3 Q853.6 557.3 850.5 557.3 L844 557.3 Z" fill="#fff" stroke="#000" stroke-width="1.9"/>
<rect x="822.8" y="540.6" width="22.4" height="17.4" fill="#fff" shape-rendering="crispEdges"/>
<text transform="translate(837.2 553.2) scale(0.82 1)" font-size="13" text-anchor="middle" fill="#000" font-weight="normal" letter-spacing="2.07" >CN1</text>
</svg>
</body></html>
